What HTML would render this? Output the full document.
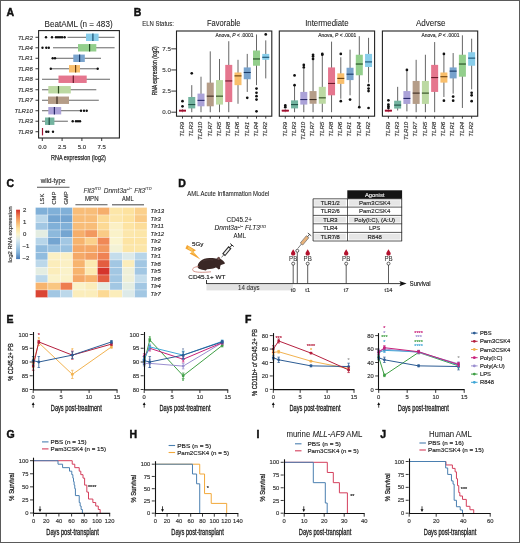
<!DOCTYPE html>
<html><head><meta charset="utf-8"><style>html,body{margin:0;padding:0;background:#fff;width:520px;height:543px;overflow:hidden;position:relative;font-family:"Liberation Sans",sans-serif}</style></head><body>
<svg width="520" height="543" viewBox="0 0 520 543" style="position:absolute;left:0;top:0;will-change:transform" font-family='"Liberation Sans", sans-serif'>
<rect x="0.00" y="0.00" width="520.00" height="543.00" fill="#ffffff" stroke="none" stroke-width="1" />
<text x="6.50" y="16.20" font-size="10.5" text-anchor="start" fill="#111" stroke="#111" stroke-width="0.45" font-weight="bold" >A</text>
<text x="78.60" y="26.50" font-size="8.7" text-anchor="middle" fill="#222" stroke="#222" stroke-width="0.07" textLength="68" lengthAdjust="spacingAndGlyphs" >BeatAML (n = 483)</text>
<line x1="67.50" y1="37.30" x2="114.60" y2="37.30" stroke="#555" stroke-width="0.9" />
<rect x="86.00" y="33.60" width="12.60" height="7.40" fill="#88cdea" stroke="none" stroke-width="1" />
<line x1="92.90" y1="33.60" x2="92.90" y2="41.00" stroke="#1a5070" stroke-width="1.2" />
<circle cx="46.00" cy="37.30" r="1.2" fill="#111" />
<circle cx="52.00" cy="37.30" r="1.2" fill="#111" />
<circle cx="56.00" cy="37.30" r="1.2" fill="#111" />
<circle cx="58.00" cy="37.30" r="1.2" fill="#111" />
<circle cx="60.00" cy="37.30" r="1.2" fill="#111" />
<circle cx="62.00" cy="37.30" r="1.2" fill="#111" />
<circle cx="64.60" cy="37.30" r="1.2" fill="#111" />
<text x="32.80" y="39.50" font-size="6.1" text-anchor="end" fill="#3a3a3a" stroke="#3a3a3a" stroke-width="0.16" font-style="italic" >TLR2</text>
<line x1="35.50" y1="37.30" x2="38.60" y2="37.30" stroke="#222" stroke-width="0.9" />
<line x1="53.00" y1="47.79" x2="114.60" y2="47.79" stroke="#555" stroke-width="0.9" />
<rect x="78.00" y="44.09" width="18.30" height="7.40" fill="#93cf8c" stroke="none" stroke-width="1" />
<line x1="89.60" y1="44.09" x2="89.60" y2="51.49" stroke="#1f4a1f" stroke-width="1.2" />
<circle cx="42.50" cy="47.79" r="1.2" fill="#111" />
<circle cx="46.30" cy="47.79" r="1.2" fill="#111" />
<circle cx="48.80" cy="47.79" r="1.2" fill="#111" />
<text x="32.80" y="49.99" font-size="6.1" text-anchor="end" fill="#3a3a3a" stroke="#3a3a3a" stroke-width="0.16" font-style="italic" >TLR4</text>
<line x1="35.50" y1="47.79" x2="38.60" y2="47.79" stroke="#222" stroke-width="0.9" />
<line x1="55.00" y1="58.28" x2="101.00" y2="58.28" stroke="#555" stroke-width="0.9" />
<rect x="73.30" y="54.58" width="11.50" height="7.40" fill="#78a3cd" stroke="none" stroke-width="1" />
<line x1="79.60" y1="54.58" x2="79.60" y2="61.98" stroke="#1a3a66" stroke-width="1.2" />
<circle cx="52.70" cy="58.28" r="1.2" fill="#111" />
<circle cx="55.00" cy="58.28" r="1.2" fill="#111" />
<text x="32.80" y="60.48" font-size="6.1" text-anchor="end" fill="#3a3a3a" stroke="#3a3a3a" stroke-width="0.16" font-style="italic" >TLR1</text>
<line x1="35.50" y1="58.28" x2="38.60" y2="58.28" stroke="#222" stroke-width="0.9" />
<line x1="50.80" y1="68.77" x2="97.70" y2="68.77" stroke="#555" stroke-width="0.9" />
<rect x="69.00" y="65.07" width="11.00" height="7.40" fill="#f9bf6c" stroke="none" stroke-width="1" />
<line x1="75.60" y1="65.07" x2="75.60" y2="72.47" stroke="#6a4010" stroke-width="1.2" />
<circle cx="50.80" cy="68.77" r="1.2" fill="#111" />
<circle cx="97.70" cy="68.77" r="1.2" fill="#111" />
<text x="32.80" y="70.97" font-size="6.1" text-anchor="end" fill="#3a3a3a" stroke="#3a3a3a" stroke-width="0.16" font-style="italic" >TLR6</text>
<line x1="35.50" y1="68.77" x2="38.60" y2="68.77" stroke="#222" stroke-width="0.9" />
<line x1="42.00" y1="79.26" x2="110.00" y2="79.26" stroke="#555" stroke-width="0.9" />
<rect x="58.50" y="75.56" width="28.20" height="7.40" fill="#e5768e" stroke="none" stroke-width="1" />
<line x1="73.30" y1="75.56" x2="73.30" y2="82.96" stroke="#6a1a2a" stroke-width="1.2" />
<text x="32.80" y="81.46" font-size="6.1" text-anchor="end" fill="#3a3a3a" stroke="#3a3a3a" stroke-width="0.16" font-style="italic" >TLR8</text>
<line x1="35.50" y1="79.26" x2="38.60" y2="79.26" stroke="#222" stroke-width="0.9" />
<line x1="42.00" y1="89.75" x2="96.30" y2="89.75" stroke="#555" stroke-width="0.9" />
<rect x="48.30" y="86.05" width="22.50" height="7.40" fill="#bcd9a2" stroke="none" stroke-width="1" />
<line x1="58.50" y1="86.05" x2="58.50" y2="93.45" stroke="#2e4a20" stroke-width="1.2" />
<text x="32.80" y="91.95" font-size="6.1" text-anchor="end" fill="#3a3a3a" stroke="#3a3a3a" stroke-width="0.16" font-style="italic" >TLR5</text>
<line x1="35.50" y1="89.75" x2="38.60" y2="89.75" stroke="#222" stroke-width="0.9" />
<line x1="42.00" y1="100.24" x2="98.80" y2="100.24" stroke="#555" stroke-width="0.9" />
<rect x="48.00" y="96.54" width="21.00" height="7.40" fill="#b59d88" stroke="none" stroke-width="1" />
<line x1="57.00" y1="96.54" x2="57.00" y2="103.94" stroke="#3a2a20" stroke-width="1.2" />
<text x="32.80" y="102.44" font-size="6.1" text-anchor="end" fill="#3a3a3a" stroke="#3a3a3a" stroke-width="0.16" font-style="italic" >TLR7</text>
<line x1="35.50" y1="100.24" x2="38.60" y2="100.24" stroke="#222" stroke-width="0.9" />
<line x1="42.00" y1="110.73" x2="80.00" y2="110.73" stroke="#555" stroke-width="0.9" />
<rect x="48.30" y="107.03" width="12.90" height="7.40" fill="#aba2d8" stroke="none" stroke-width="1" />
<line x1="54.40" y1="107.03" x2="54.40" y2="114.43" stroke="#2a2a6a" stroke-width="1.2" />
<circle cx="81.00" cy="110.73" r="1.2" fill="#111" />
<circle cx="84.00" cy="110.73" r="1.2" fill="#111" />
<circle cx="86.70" cy="110.73" r="1.2" fill="#111" />
<text x="32.80" y="112.93" font-size="6.1" text-anchor="end" fill="#3a3a3a" stroke="#3a3a3a" stroke-width="0.16" font-style="italic" >TLR10</text>
<line x1="35.50" y1="110.73" x2="38.60" y2="110.73" stroke="#222" stroke-width="0.9" />
<line x1="42.00" y1="121.22" x2="67.90" y2="121.22" stroke="#555" stroke-width="0.9" />
<rect x="45.00" y="117.52" width="9.40" height="7.40" fill="#74b4a0" stroke="none" stroke-width="1" />
<line x1="49.20" y1="117.52" x2="49.20" y2="124.92" stroke="#1f4f44" stroke-width="1.2" />
<circle cx="72.70" cy="121.22" r="1.2" fill="#111" />
<circle cx="76.00" cy="121.22" r="1.2" fill="#111" />
<circle cx="78.00" cy="121.22" r="1.2" fill="#111" />
<circle cx="80.00" cy="121.22" r="1.2" fill="#111" />
<text x="32.80" y="123.42" font-size="6.1" text-anchor="end" fill="#3a3a3a" stroke="#3a3a3a" stroke-width="0.16" font-style="italic" >TLR3</text>
<line x1="35.50" y1="121.22" x2="38.60" y2="121.22" stroke="#222" stroke-width="0.9" />
<line x1="42.00" y1="131.71" x2="43.00" y2="131.71" stroke="#555" stroke-width="0.9" />
<line x1="42.50" y1="128.01" x2="42.50" y2="135.41" stroke="#9a1030" stroke-width="1.2" />
<circle cx="46.30" cy="131.71" r="1.2" fill="#111" />
<circle cx="48.30" cy="131.71" r="1.2" fill="#111" />
<circle cx="53.00" cy="131.71" r="1.2" fill="#111" />
<text x="32.80" y="133.91" font-size="6.1" text-anchor="end" fill="#3a3a3a" stroke="#3a3a3a" stroke-width="0.16" font-style="italic" >TLR9</text>
<line x1="35.50" y1="131.71" x2="38.60" y2="131.71" stroke="#222" stroke-width="0.9" />
<rect x="38.60" y="30.60" width="80.80" height="107.40" fill="none" stroke="#222" stroke-width="1.1" />
<line x1="42.30" y1="138.00" x2="42.30" y2="141.00" stroke="#222" stroke-width="0.9" />
<text x="42.30" y="149.00" font-size="6" text-anchor="middle" fill="#333" stroke="#333" stroke-width="0.16" >0.0</text>
<line x1="62.10" y1="138.00" x2="62.10" y2="141.00" stroke="#222" stroke-width="0.9" />
<text x="62.10" y="149.00" font-size="6" text-anchor="middle" fill="#333" stroke="#333" stroke-width="0.16" >2.5</text>
<line x1="81.90" y1="138.00" x2="81.90" y2="141.00" stroke="#222" stroke-width="0.9" />
<text x="81.90" y="149.00" font-size="6" text-anchor="middle" fill="#333" stroke="#333" stroke-width="0.16" >5.0</text>
<line x1="101.70" y1="138.00" x2="101.70" y2="141.00" stroke="#222" stroke-width="0.9" />
<text x="101.70" y="149.00" font-size="6" text-anchor="middle" fill="#333" stroke="#333" stroke-width="0.16" >7.5</text>
<text x="78.40" y="160.10" font-size="7.8" text-anchor="middle" fill="#222" stroke="#222" stroke-width="0.25" textLength="54.8" lengthAdjust="spacingAndGlyphs" >RNA expression (log2)</text>
<text x="133.80" y="16.20" font-size="10.5" text-anchor="start" fill="#111" stroke="#111" stroke-width="0.45" font-weight="bold" >B</text>
<text x="142.30" y="26.40" font-size="6.5" text-anchor="start" fill="#222" stroke="#222" stroke-width="0.07" textLength="31.7" lengthAdjust="spacingAndGlyphs" >ELN Status:</text>
<text x="223.70" y="26.30" font-size="8.7" text-anchor="middle" fill="#222" stroke="#222" stroke-width="0.07" textLength="33.5" lengthAdjust="spacingAndGlyphs" >Favorable</text>
<line x1="182.50" y1="112.20" x2="182.50" y2="109.24" stroke="#555" stroke-width="0.9" />
<rect x="179.00" y="109.67" width="7.00" height="2.11" fill="#c23a55" stroke="none" stroke-width="1" />
<line x1="179.00" y1="110.51" x2="186.00" y2="110.51" stroke="#9a1030" stroke-width="1.1" />
<circle cx="182.50" cy="106.28" r="1.35" fill="#111" />
<circle cx="182.50" cy="101.22" r="1.35" fill="#111" />
<line x1="182.50" y1="116.20" x2="182.50" y2="118.60" stroke="#222" stroke-width="0.9" />
<text x="0.00" y="0.00" font-size="6.1" text-anchor="end" fill="#333" stroke="#333" stroke-width="0.16" font-style="italic" transform="translate(183.80,121.8) rotate(-90)">TLR9</text>
<line x1="191.75" y1="112.20" x2="191.75" y2="85.16" stroke="#555" stroke-width="0.9" />
<rect x="188.25" y="96.99" width="7.00" height="11.41" fill="#74b4a0" stroke="none" stroke-width="1" />
<line x1="188.25" y1="104.59" x2="195.25" y2="104.59" stroke="#1f4f44" stroke-width="1.1" />
<circle cx="191.75" cy="73.33" r="1.35" fill="#111" />
<line x1="191.75" y1="116.20" x2="191.75" y2="118.60" stroke="#222" stroke-width="0.9" />
<text x="0.00" y="0.00" font-size="6.1" text-anchor="end" fill="#333" stroke="#333" stroke-width="0.16" font-style="italic" transform="translate(193.05,121.8) rotate(-90)">TLR3</text>
<line x1="201.00" y1="112.20" x2="201.00" y2="76.71" stroke="#555" stroke-width="0.9" />
<rect x="197.50" y="93.61" width="7.00" height="12.67" fill="#aba2d8" stroke="none" stroke-width="1" />
<line x1="197.50" y1="100.37" x2="204.50" y2="100.37" stroke="#2a2a6a" stroke-width="1.1" />
<line x1="201.00" y1="116.20" x2="201.00" y2="118.60" stroke="#222" stroke-width="0.9" />
<text x="0.00" y="0.00" font-size="6.1" text-anchor="end" fill="#333" stroke="#333" stroke-width="0.16" font-style="italic" transform="translate(202.30,121.8) rotate(-90)">TLR10</text>
<line x1="210.25" y1="112.20" x2="210.25" y2="51.36" stroke="#555" stroke-width="0.9" />
<rect x="206.75" y="82.62" width="7.00" height="23.66" fill="#b59d88" stroke="none" stroke-width="1" />
<line x1="206.75" y1="96.15" x2="213.75" y2="96.15" stroke="#3a2a20" stroke-width="1.1" />
<line x1="210.25" y1="116.20" x2="210.25" y2="118.60" stroke="#222" stroke-width="0.9" />
<text x="0.00" y="0.00" font-size="6.1" text-anchor="end" fill="#333" stroke="#333" stroke-width="0.16" font-style="italic" transform="translate(211.55,121.8) rotate(-90)">TLR7</text>
<line x1="219.50" y1="112.20" x2="219.50" y2="58.97" stroke="#555" stroke-width="0.9" />
<rect x="216.00" y="80.09" width="7.00" height="24.50" fill="#bcd9a2" stroke="none" stroke-width="1" />
<line x1="216.00" y1="96.15" x2="223.00" y2="96.15" stroke="#2e4a20" stroke-width="1.1" />
<line x1="219.50" y1="116.20" x2="219.50" y2="118.60" stroke="#222" stroke-width="0.9" />
<text x="0.00" y="0.00" font-size="6.1" text-anchor="end" fill="#333" stroke="#333" stroke-width="0.16" font-style="italic" transform="translate(220.80,121.8) rotate(-90)">TLR5</text>
<line x1="228.75" y1="112.20" x2="228.75" y2="41.22" stroke="#555" stroke-width="0.9" />
<rect x="225.25" y="64.88" width="7.00" height="37.18" fill="#e5768e" stroke="none" stroke-width="1" />
<line x1="225.25" y1="80.94" x2="232.25" y2="80.94" stroke="#6a1a2a" stroke-width="1.1" />
<line x1="228.75" y1="116.20" x2="228.75" y2="118.60" stroke="#222" stroke-width="0.9" />
<text x="0.00" y="0.00" font-size="6.1" text-anchor="end" fill="#333" stroke="#333" stroke-width="0.16" font-style="italic" transform="translate(230.05,121.8) rotate(-90)">TLR8</text>
<line x1="238.00" y1="103.75" x2="238.00" y2="59.81" stroke="#555" stroke-width="0.9" />
<rect x="234.50" y="72.49" width="7.00" height="12.67" fill="#f9bf6c" stroke="none" stroke-width="1" />
<line x1="234.50" y1="75.87" x2="241.50" y2="75.87" stroke="#6a4010" stroke-width="1.1" />
<line x1="238.00" y1="116.20" x2="238.00" y2="118.60" stroke="#222" stroke-width="0.9" />
<text x="0.00" y="0.00" font-size="6.1" text-anchor="end" fill="#333" stroke="#333" stroke-width="0.16" font-style="italic" transform="translate(239.30,121.8) rotate(-90)">TLR6</text>
<line x1="247.25" y1="91.92" x2="247.25" y2="53.90" stroke="#555" stroke-width="0.9" />
<rect x="243.75" y="67.42" width="7.00" height="11.83" fill="#78a3cd" stroke="none" stroke-width="1" />
<line x1="243.75" y1="72.49" x2="250.75" y2="72.49" stroke="#1a3a66" stroke-width="1.1" />
<circle cx="247.25" cy="97.84" r="1.35" fill="#111" />
<line x1="247.25" y1="116.20" x2="247.25" y2="118.60" stroke="#222" stroke-width="0.9" />
<text x="0.00" y="0.00" font-size="6.1" text-anchor="end" fill="#333" stroke="#333" stroke-width="0.16" font-style="italic" transform="translate(248.55,121.8) rotate(-90)">TLR1</text>
<line x1="256.50" y1="85.16" x2="256.50" y2="34.46" stroke="#555" stroke-width="0.9" />
<rect x="253.00" y="50.52" width="7.00" height="15.21" fill="#93cf8c" stroke="none" stroke-width="1" />
<line x1="253.00" y1="58.97" x2="260.00" y2="58.97" stroke="#1f4a1f" stroke-width="1.1" />
<circle cx="256.50" cy="88.54" r="1.35" fill="#111" />
<circle cx="256.50" cy="92.77" r="1.35" fill="#111" />
<circle cx="256.50" cy="96.15" r="1.35" fill="#111" />
<circle cx="256.50" cy="99.53" r="1.35" fill="#111" />
<circle cx="256.50" cy="111.36" r="1.35" fill="#111" />
<line x1="256.50" y1="116.20" x2="256.50" y2="118.60" stroke="#222" stroke-width="0.9" />
<text x="0.00" y="0.00" font-size="6.1" text-anchor="end" fill="#333" stroke="#333" stroke-width="0.16" font-style="italic" transform="translate(257.80,121.8) rotate(-90)">TLR4</text>
<line x1="265.75" y1="78.40" x2="265.75" y2="40.38" stroke="#555" stroke-width="0.9" />
<rect x="262.25" y="53.90" width="7.00" height="5.91" fill="#88cdea" stroke="none" stroke-width="1" />
<line x1="262.25" y1="57.28" x2="269.25" y2="57.28" stroke="#1a5070" stroke-width="1.1" />
<circle cx="265.75" cy="34.46" r="1.35" fill="#111" />
<line x1="265.75" y1="116.20" x2="265.75" y2="118.60" stroke="#222" stroke-width="0.9" />
<text x="0.00" y="0.00" font-size="6.1" text-anchor="end" fill="#333" stroke="#333" stroke-width="0.16" font-style="italic" transform="translate(267.05,121.8) rotate(-90)">TLR2</text>
<rect x="176.50" y="31.00" width="95.30" height="85.20" fill="none" stroke="#222" stroke-width="1.1" />
<text x="253.50" y="37.30" font-size="5" text-anchor="end" fill="#333" stroke="#333" stroke-width="0.16" textLength="38" lengthAdjust="spacingAndGlyphs" >Anova, <tspan font-style="italic">P</tspan> &lt; .0001</text>
<text x="326.90" y="26.30" font-size="8.7" text-anchor="middle" fill="#222" stroke="#222" stroke-width="0.07" textLength="43.4" lengthAdjust="spacingAndGlyphs" >Intermediate</text>
<line x1="285.30" y1="112.20" x2="285.30" y2="109.24" stroke="#555" stroke-width="0.9" />
<rect x="281.80" y="109.67" width="7.00" height="2.11" fill="#c23a55" stroke="none" stroke-width="1" />
<line x1="281.80" y1="110.51" x2="288.80" y2="110.51" stroke="#9a1030" stroke-width="1.1" />
<circle cx="285.30" cy="107.13" r="1.35" fill="#111" />
<circle cx="285.30" cy="105.44" r="1.35" fill="#111" />
<line x1="285.30" y1="116.20" x2="285.30" y2="118.60" stroke="#222" stroke-width="0.9" />
<text x="0.00" y="0.00" font-size="6.1" text-anchor="end" fill="#333" stroke="#333" stroke-width="0.16" font-style="italic" transform="translate(286.60,121.8) rotate(-90)">TLR9</text>
<line x1="294.55" y1="112.20" x2="294.55" y2="84.32" stroke="#555" stroke-width="0.9" />
<rect x="291.05" y="100.37" width="7.00" height="8.03" fill="#74b4a0" stroke="none" stroke-width="1" />
<line x1="291.05" y1="104.59" x2="298.05" y2="104.59" stroke="#1f4f44" stroke-width="1.1" />
<circle cx="294.55" cy="85.16" r="1.35" fill="#111" />
<circle cx="294.55" cy="75.44" r="1.35" fill="#111" />
<line x1="294.55" y1="116.20" x2="294.55" y2="118.60" stroke="#222" stroke-width="0.9" />
<text x="0.00" y="0.00" font-size="6.1" text-anchor="end" fill="#333" stroke="#333" stroke-width="0.16" font-style="italic" transform="translate(295.85,121.8) rotate(-90)">TLR3</text>
<line x1="303.80" y1="112.20" x2="303.80" y2="69.11" stroke="#555" stroke-width="0.9" />
<rect x="300.30" y="91.92" width="7.00" height="12.67" fill="#aba2d8" stroke="none" stroke-width="1" />
<line x1="300.30" y1="99.53" x2="307.30" y2="99.53" stroke="#2a2a6a" stroke-width="1.1" />
<circle cx="303.80" cy="67.42" r="1.35" fill="#111" />
<circle cx="303.80" cy="64.88" r="1.35" fill="#111" />
<line x1="303.80" y1="116.20" x2="303.80" y2="118.60" stroke="#222" stroke-width="0.9" />
<text x="0.00" y="0.00" font-size="6.1" text-anchor="end" fill="#333" stroke="#333" stroke-width="0.16" font-style="italic" transform="translate(305.10,121.8) rotate(-90)">TLR10</text>
<line x1="313.05" y1="112.20" x2="313.05" y2="58.97" stroke="#555" stroke-width="0.9" />
<rect x="309.55" y="91.08" width="7.00" height="12.67" fill="#b59d88" stroke="none" stroke-width="1" />
<line x1="309.55" y1="99.53" x2="316.55" y2="99.53" stroke="#3a2a20" stroke-width="1.1" />
<circle cx="313.05" cy="58.97" r="1.35" fill="#111" />
<circle cx="313.05" cy="56.43" r="1.35" fill="#111" />
<circle cx="313.05" cy="54.74" r="1.35" fill="#111" />
<line x1="313.05" y1="116.20" x2="313.05" y2="118.60" stroke="#222" stroke-width="0.9" />
<text x="0.00" y="0.00" font-size="6.1" text-anchor="end" fill="#333" stroke="#333" stroke-width="0.16" font-style="italic" transform="translate(314.35,121.8) rotate(-90)">TLR7</text>
<line x1="322.30" y1="112.20" x2="322.30" y2="55.59" stroke="#555" stroke-width="0.9" />
<rect x="318.80" y="86.85" width="7.00" height="16.90" fill="#bcd9a2" stroke="none" stroke-width="1" />
<line x1="318.80" y1="97.84" x2="325.80" y2="97.84" stroke="#2e4a20" stroke-width="1.1" />
<circle cx="322.30" cy="54.74" r="1.35" fill="#111" />
<circle cx="322.30" cy="53.90" r="1.35" fill="#111" />
<line x1="322.30" y1="116.20" x2="322.30" y2="118.60" stroke="#222" stroke-width="0.9" />
<text x="0.00" y="0.00" font-size="6.1" text-anchor="end" fill="#333" stroke="#333" stroke-width="0.16" font-style="italic" transform="translate(323.60,121.8) rotate(-90)">TLR5</text>
<line x1="331.55" y1="112.20" x2="331.55" y2="41.64" stroke="#555" stroke-width="0.9" />
<rect x="328.05" y="67.42" width="7.00" height="27.89" fill="#e5768e" stroke="none" stroke-width="1" />
<line x1="328.05" y1="83.47" x2="335.05" y2="83.47" stroke="#6a1a2a" stroke-width="1.1" />
<line x1="331.55" y1="116.20" x2="331.55" y2="118.60" stroke="#222" stroke-width="0.9" />
<text x="0.00" y="0.00" font-size="6.1" text-anchor="end" fill="#333" stroke="#333" stroke-width="0.16" font-style="italic" transform="translate(332.85,121.8) rotate(-90)">TLR8</text>
<line x1="340.80" y1="98.68" x2="340.80" y2="57.28" stroke="#555" stroke-width="0.9" />
<rect x="337.30" y="73.33" width="7.00" height="10.56" fill="#f9bf6c" stroke="none" stroke-width="1" />
<line x1="337.30" y1="78.40" x2="344.30" y2="78.40" stroke="#6a4010" stroke-width="1.1" />
<circle cx="340.80" cy="53.90" r="1.35" fill="#111" />
<circle cx="340.80" cy="101.22" r="1.35" fill="#111" />
<line x1="340.80" y1="116.20" x2="340.80" y2="118.60" stroke="#222" stroke-width="0.9" />
<text x="0.00" y="0.00" font-size="6.1" text-anchor="end" fill="#333" stroke="#333" stroke-width="0.16" font-style="italic" transform="translate(342.10,121.8) rotate(-90)">TLR6</text>
<line x1="350.05" y1="95.30" x2="350.05" y2="49.67" stroke="#555" stroke-width="0.9" />
<rect x="346.55" y="67.75" width="7.00" height="12.34" fill="#78a3cd" stroke="none" stroke-width="1" />
<line x1="346.55" y1="74.18" x2="353.55" y2="74.18" stroke="#1a3a66" stroke-width="1.1" />
<circle cx="350.05" cy="99.53" r="1.35" fill="#111" />
<line x1="350.05" y1="116.20" x2="350.05" y2="118.60" stroke="#222" stroke-width="0.9" />
<text x="0.00" y="0.00" font-size="6.1" text-anchor="end" fill="#333" stroke="#333" stroke-width="0.16" font-style="italic" transform="translate(351.35,121.8) rotate(-90)">TLR1</text>
<line x1="359.30" y1="107.13" x2="359.30" y2="36.15" stroke="#555" stroke-width="0.9" />
<rect x="355.80" y="54.74" width="7.00" height="20.53" fill="#93cf8c" stroke="none" stroke-width="1" />
<line x1="355.80" y1="64.03" x2="362.80" y2="64.03" stroke="#1f4a1f" stroke-width="1.1" />
<circle cx="359.30" cy="107.13" r="1.35" fill="#111" />
<line x1="359.30" y1="116.20" x2="359.30" y2="118.60" stroke="#222" stroke-width="0.9" />
<text x="0.00" y="0.00" font-size="6.1" text-anchor="end" fill="#333" stroke="#333" stroke-width="0.16" font-style="italic" transform="translate(360.60,121.8) rotate(-90)">TLR4</text>
<line x1="368.55" y1="82.62" x2="368.55" y2="37.84" stroke="#555" stroke-width="0.9" />
<rect x="365.05" y="53.90" width="7.00" height="13.10" fill="#88cdea" stroke="none" stroke-width="1" />
<line x1="365.05" y1="61.92" x2="372.05" y2="61.92" stroke="#1a5070" stroke-width="1.1" />
<circle cx="368.55" cy="85.16" r="1.35" fill="#111" />
<circle cx="368.55" cy="88.54" r="1.35" fill="#111" />
<circle cx="368.55" cy="91.08" r="1.35" fill="#111" />
<circle cx="368.55" cy="107.98" r="1.35" fill="#111" />
<line x1="368.55" y1="116.20" x2="368.55" y2="118.60" stroke="#222" stroke-width="0.9" />
<text x="0.00" y="0.00" font-size="6.1" text-anchor="end" fill="#333" stroke="#333" stroke-width="0.16" font-style="italic" transform="translate(369.85,121.8) rotate(-90)">TLR2</text>
<rect x="279.30" y="31.00" width="95.30" height="85.20" fill="none" stroke="#222" stroke-width="1.1" />
<text x="356.30" y="37.30" font-size="5" text-anchor="end" fill="#333" stroke="#333" stroke-width="0.16" textLength="38" lengthAdjust="spacingAndGlyphs" >Anova, <tspan font-style="italic">P</tspan> &lt; .0001</text>
<text x="430.70" y="26.30" font-size="8.7" text-anchor="middle" fill="#222" stroke="#222" stroke-width="0.07" textLength="29.5" lengthAdjust="spacingAndGlyphs" >Adverse</text>
<line x1="388.40" y1="112.20" x2="388.40" y2="109.24" stroke="#555" stroke-width="0.9" />
<rect x="384.90" y="109.67" width="7.00" height="2.11" fill="#c23a55" stroke="none" stroke-width="1" />
<line x1="384.90" y1="110.51" x2="391.90" y2="110.51" stroke="#9a1030" stroke-width="1.1" />
<circle cx="388.40" cy="107.98" r="1.35" fill="#111" />
<circle cx="388.40" cy="106.28" r="1.35" fill="#111" />
<circle cx="388.40" cy="104.59" r="1.35" fill="#111" />
<circle cx="388.40" cy="100.37" r="1.35" fill="#111" />
<line x1="388.40" y1="116.20" x2="388.40" y2="118.60" stroke="#222" stroke-width="0.9" />
<text x="0.00" y="0.00" font-size="6.1" text-anchor="end" fill="#333" stroke="#333" stroke-width="0.16" font-style="italic" transform="translate(389.70,121.8) rotate(-90)">TLR9</text>
<line x1="397.65" y1="110.51" x2="397.65" y2="86.85" stroke="#555" stroke-width="0.9" />
<rect x="394.15" y="100.71" width="7.00" height="7.86" fill="#74b4a0" stroke="none" stroke-width="1" />
<line x1="394.15" y1="105.10" x2="401.15" y2="105.10" stroke="#1f4f44" stroke-width="1.1" />
<line x1="397.65" y1="116.20" x2="397.65" y2="118.60" stroke="#222" stroke-width="0.9" />
<text x="0.00" y="0.00" font-size="6.1" text-anchor="end" fill="#333" stroke="#333" stroke-width="0.16" font-style="italic" transform="translate(398.95,121.8) rotate(-90)">TLR3</text>
<line x1="406.90" y1="111.36" x2="406.90" y2="69.95" stroke="#555" stroke-width="0.9" />
<rect x="403.40" y="91.08" width="7.00" height="12.84" fill="#aba2d8" stroke="none" stroke-width="1" />
<line x1="403.40" y1="98.43" x2="410.40" y2="98.43" stroke="#2a2a6a" stroke-width="1.1" />
<circle cx="406.90" cy="69.95" r="1.35" fill="#111" />
<line x1="406.90" y1="116.20" x2="406.90" y2="118.60" stroke="#222" stroke-width="0.9" />
<text x="0.00" y="0.00" font-size="6.1" text-anchor="end" fill="#333" stroke="#333" stroke-width="0.16" font-style="italic" transform="translate(408.20,121.8) rotate(-90)">TLR10</text>
<line x1="416.15" y1="112.20" x2="416.15" y2="59.81" stroke="#555" stroke-width="0.9" />
<rect x="412.65" y="80.94" width="7.00" height="22.98" fill="#b59d88" stroke="none" stroke-width="1" />
<line x1="412.65" y1="93.10" x2="419.65" y2="93.10" stroke="#3a2a20" stroke-width="1.1" />
<line x1="416.15" y1="116.20" x2="416.15" y2="118.60" stroke="#222" stroke-width="0.9" />
<text x="0.00" y="0.00" font-size="6.1" text-anchor="end" fill="#333" stroke="#333" stroke-width="0.16" font-style="italic" transform="translate(417.45,121.8) rotate(-90)">TLR7</text>
<line x1="425.40" y1="112.20" x2="425.40" y2="54.74" stroke="#555" stroke-width="0.9" />
<rect x="421.90" y="80.94" width="7.00" height="22.98" fill="#bcd9a2" stroke="none" stroke-width="1" />
<line x1="421.90" y1="93.10" x2="428.90" y2="93.10" stroke="#2e4a20" stroke-width="1.1" />
<line x1="425.40" y1="116.20" x2="425.40" y2="118.60" stroke="#222" stroke-width="0.9" />
<text x="0.00" y="0.00" font-size="6.1" text-anchor="end" fill="#333" stroke="#333" stroke-width="0.16" font-style="italic" transform="translate(426.70,121.8) rotate(-90)">TLR5</text>
<line x1="434.65" y1="112.20" x2="434.65" y2="42.06" stroke="#555" stroke-width="0.9" />
<rect x="431.15" y="64.88" width="7.00" height="27.04" fill="#e5768e" stroke="none" stroke-width="1" />
<line x1="431.15" y1="77.56" x2="438.15" y2="77.56" stroke="#6a1a2a" stroke-width="1.1" />
<line x1="434.65" y1="116.20" x2="434.65" y2="118.60" stroke="#222" stroke-width="0.9" />
<text x="0.00" y="0.00" font-size="6.1" text-anchor="end" fill="#333" stroke="#333" stroke-width="0.16" font-style="italic" transform="translate(435.95,121.8) rotate(-90)">TLR8</text>
<line x1="443.90" y1="96.99" x2="443.90" y2="54.74" stroke="#555" stroke-width="0.9" />
<rect x="440.40" y="72.49" width="7.00" height="10.14" fill="#f9bf6c" stroke="none" stroke-width="1" />
<line x1="440.40" y1="76.71" x2="447.40" y2="76.71" stroke="#6a4010" stroke-width="1.1" />
<circle cx="443.90" cy="53.90" r="1.35" fill="#111" />
<circle cx="443.90" cy="100.71" r="1.35" fill="#111" />
<line x1="443.90" y1="116.20" x2="443.90" y2="118.60" stroke="#222" stroke-width="0.9" />
<text x="0.00" y="0.00" font-size="6.1" text-anchor="end" fill="#333" stroke="#333" stroke-width="0.16" font-style="italic" transform="translate(445.20,121.8) rotate(-90)">TLR6</text>
<line x1="453.15" y1="93.61" x2="453.15" y2="53.05" stroke="#555" stroke-width="0.9" />
<rect x="449.65" y="67.42" width="7.00" height="10.98" fill="#78a3cd" stroke="none" stroke-width="1" />
<line x1="449.65" y1="71.13" x2="456.65" y2="71.13" stroke="#1a3a66" stroke-width="1.1" />
<circle cx="453.15" cy="96.57" r="1.35" fill="#111" />
<circle cx="453.15" cy="100.71" r="1.35" fill="#111" />
<line x1="453.15" y1="116.20" x2="453.15" y2="118.60" stroke="#222" stroke-width="0.9" />
<text x="0.00" y="0.00" font-size="6.1" text-anchor="end" fill="#333" stroke="#333" stroke-width="0.16" font-style="italic" transform="translate(454.45,121.8) rotate(-90)">TLR1</text>
<line x1="462.40" y1="107.98" x2="462.40" y2="35.31" stroke="#555" stroke-width="0.9" />
<rect x="458.90" y="54.74" width="7.00" height="21.97" fill="#93cf8c" stroke="none" stroke-width="1" />
<line x1="458.90" y1="64.03" x2="465.90" y2="64.03" stroke="#1f4a1f" stroke-width="1.1" />
<line x1="462.40" y1="116.20" x2="462.40" y2="118.60" stroke="#222" stroke-width="0.9" />
<text x="0.00" y="0.00" font-size="6.1" text-anchor="end" fill="#333" stroke="#333" stroke-width="0.16" font-style="italic" transform="translate(463.70,121.8) rotate(-90)">TLR4</text>
<line x1="471.65" y1="89.39" x2="471.65" y2="38.69" stroke="#555" stroke-width="0.9" />
<rect x="468.15" y="52.21" width="7.00" height="13.52" fill="#88cdea" stroke="none" stroke-width="1" />
<line x1="468.15" y1="58.12" x2="475.15" y2="58.12" stroke="#1a5070" stroke-width="1.1" />
<circle cx="471.65" cy="92.77" r="1.35" fill="#111" />
<circle cx="471.65" cy="95.30" r="1.35" fill="#111" />
<circle cx="471.65" cy="101.22" r="1.35" fill="#111" />
<line x1="471.65" y1="116.20" x2="471.65" y2="118.60" stroke="#222" stroke-width="0.9" />
<text x="0.00" y="0.00" font-size="6.1" text-anchor="end" fill="#333" stroke="#333" stroke-width="0.16" font-style="italic" transform="translate(472.95,121.8) rotate(-90)">TLR2</text>
<rect x="382.40" y="31.00" width="95.30" height="85.20" fill="none" stroke="#222" stroke-width="1.1" />
<text x="459.40" y="37.30" font-size="5" text-anchor="end" fill="#333" stroke="#333" stroke-width="0.16" textLength="38" lengthAdjust="spacingAndGlyphs" >Anova, <tspan font-style="italic">P</tspan> &lt; .0001</text>
<line x1="171.30" y1="112.20" x2="176.50" y2="112.20" stroke="#222" stroke-width="0.9" />
<text x="170.90" y="114.30" font-size="6.2" text-anchor="end" fill="#444" stroke="#444" stroke-width="0.16" >0.0</text>
<line x1="171.30" y1="91.08" x2="176.50" y2="91.08" stroke="#222" stroke-width="0.9" />
<text x="170.90" y="93.17" font-size="6.2" text-anchor="end" fill="#444" stroke="#444" stroke-width="0.16" >2.5</text>
<line x1="171.30" y1="69.95" x2="176.50" y2="69.95" stroke="#222" stroke-width="0.9" />
<text x="170.90" y="72.05" font-size="6.2" text-anchor="end" fill="#444" stroke="#444" stroke-width="0.16" >5.0</text>
<line x1="171.30" y1="48.83" x2="176.50" y2="48.83" stroke="#222" stroke-width="0.9" />
<text x="170.90" y="50.93" font-size="6.2" text-anchor="end" fill="#444" stroke="#444" stroke-width="0.16" >7.5</text>
<text x="0.00" y="0.00" font-size="7.8" text-anchor="middle" fill="#222" stroke="#222" stroke-width="0.25" textLength="49" lengthAdjust="spacingAndGlyphs" transform="translate(157.4,70.8) rotate(-90)">RNA expression (log2)</text>
<text x="6.50" y="187.40" font-size="10.5" text-anchor="start" fill="#111" stroke="#111" stroke-width="0.45" font-weight="bold" >C</text>
<text x="53.10" y="183.40" font-size="6.4" text-anchor="middle" fill="#333" stroke="#333" stroke-width="0.16" textLength="24.6" lengthAdjust="spacingAndGlyphs" >wild-type</text>
<line x1="37.00" y1="187.20" x2="69.50" y2="187.20" stroke="#555" stroke-width="1.1" />
<text x="0.00" y="0.00" font-size="5.8" text-anchor="start" fill="#333" stroke="#333" stroke-width="0.16" transform="translate(43.70,204.6) rotate(-90)">LSK</text>
<text x="0.00" y="0.00" font-size="5.8" text-anchor="start" fill="#333" stroke="#333" stroke-width="0.16" transform="translate(56.09,204.6) rotate(-90)">CMP</text>
<text x="0.00" y="0.00" font-size="5.8" text-anchor="start" fill="#333" stroke="#333" stroke-width="0.16" transform="translate(68.47,204.6) rotate(-90)">GMP</text>
<text x="92.10" y="192.60" font-size="6.6" text-anchor="middle" fill="#333" stroke="#333" stroke-width="0.07" ><tspan font-style="italic">Flt3</tspan><tspan font-size="3.9" dy="-2.6" font-style="italic">ITD</tspan></text>
<text x="91.80" y="200.80" font-size="6.3" text-anchor="middle" fill="#333" stroke="#333" stroke-width="0.16" textLength="13.5" lengthAdjust="spacingAndGlyphs" >MPN</text>
<line x1="75.40" y1="204.80" x2="107.50" y2="204.80" stroke="#555" stroke-width="1.1" />
<text x="127.60" y="192.60" font-size="6.6" text-anchor="middle" fill="#333" stroke="#333" stroke-width="0.07" ><tspan font-style="italic">Dnmt3a</tspan><tspan font-size="3.9" dy="-2.6">+/−</tspan><tspan dy="2.6" font-style="italic"> Flt3</tspan><tspan font-size="3.9" dy="-2.6" font-style="italic">ITD</tspan></text>
<text x="127.80" y="200.80" font-size="6.3" text-anchor="middle" fill="#333" stroke="#333" stroke-width="0.16" textLength="11.5" lengthAdjust="spacingAndGlyphs" >AML</text>
<line x1="112.00" y1="204.80" x2="144.00" y2="204.80" stroke="#555" stroke-width="1.1" />
<rect x="35.50" y="207.50" width="12.39" height="7.50" fill="#80b0d8" stroke="#ffffff" stroke-width="0.5" stroke-opacity="0.55"/>
<rect x="47.89" y="207.50" width="12.39" height="7.50" fill="#80b0d8" stroke="#ffffff" stroke-width="0.5" stroke-opacity="0.55"/>
<rect x="60.28" y="207.50" width="12.39" height="7.50" fill="#80b0d8" stroke="#ffffff" stroke-width="0.5" stroke-opacity="0.55"/>
<rect x="72.67" y="207.50" width="12.39" height="7.50" fill="#f8bd78" stroke="#ffffff" stroke-width="0.5" stroke-opacity="0.55"/>
<rect x="85.06" y="207.50" width="12.39" height="7.50" fill="#f8bd78" stroke="#ffffff" stroke-width="0.5" stroke-opacity="0.55"/>
<rect x="97.45" y="207.50" width="12.39" height="7.50" fill="#f6ae6b" stroke="#ffffff" stroke-width="0.5" stroke-opacity="0.55"/>
<rect x="109.84" y="207.50" width="12.39" height="7.50" fill="#fce6a8" stroke="#ffffff" stroke-width="0.5" stroke-opacity="0.55"/>
<rect x="122.23" y="207.50" width="12.39" height="7.50" fill="#fde29e" stroke="#ffffff" stroke-width="0.5" stroke-opacity="0.55"/>
<rect x="134.62" y="207.50" width="12.39" height="7.50" fill="#fbd08b" stroke="#ffffff" stroke-width="0.5" stroke-opacity="0.55"/>
<text x="150.50" y="213.35" font-size="6" text-anchor="start" fill="#333" stroke="#333" stroke-width="0.16" font-style="italic" >Tlr13</text>
<rect x="35.50" y="215.00" width="12.39" height="7.50" fill="#bcd8ea" stroke="#ffffff" stroke-width="0.5" stroke-opacity="0.55"/>
<rect x="47.89" y="215.00" width="12.39" height="7.50" fill="#74a5d1" stroke="#ffffff" stroke-width="0.5" stroke-opacity="0.55"/>
<rect x="60.28" y="215.00" width="12.39" height="7.50" fill="#74a5d1" stroke="#ffffff" stroke-width="0.5" stroke-opacity="0.55"/>
<rect x="72.67" y="215.00" width="12.39" height="7.50" fill="#f8bd78" stroke="#ffffff" stroke-width="0.5" stroke-opacity="0.55"/>
<rect x="85.06" y="215.00" width="12.39" height="7.50" fill="#f8bd78" stroke="#ffffff" stroke-width="0.5" stroke-opacity="0.55"/>
<rect x="97.45" y="215.00" width="12.39" height="7.50" fill="#fcd994" stroke="#ffffff" stroke-width="0.5" stroke-opacity="0.55"/>
<rect x="109.84" y="215.00" width="12.39" height="7.50" fill="#fce7ac" stroke="#ffffff" stroke-width="0.5" stroke-opacity="0.55"/>
<rect x="122.23" y="215.00" width="12.39" height="7.50" fill="#fde29e" stroke="#ffffff" stroke-width="0.5" stroke-opacity="0.55"/>
<rect x="134.62" y="215.00" width="12.39" height="7.50" fill="#facb86" stroke="#ffffff" stroke-width="0.5" stroke-opacity="0.55"/>
<text x="150.50" y="220.85" font-size="6" text-anchor="start" fill="#333" stroke="#333" stroke-width="0.16" font-style="italic" >Tlr3</text>
<rect x="35.50" y="222.50" width="12.39" height="7.50" fill="#a2c7e3" stroke="#ffffff" stroke-width="0.5" stroke-opacity="0.55"/>
<rect x="47.89" y="222.50" width="12.39" height="7.50" fill="#80b0d8" stroke="#ffffff" stroke-width="0.5" stroke-opacity="0.55"/>
<rect x="60.28" y="222.50" width="12.39" height="7.50" fill="#80b0d8" stroke="#ffffff" stroke-width="0.5" stroke-opacity="0.55"/>
<rect x="72.67" y="222.50" width="12.39" height="7.50" fill="#f8bd78" stroke="#ffffff" stroke-width="0.5" stroke-opacity="0.55"/>
<rect x="85.06" y="222.50" width="12.39" height="7.50" fill="#f8bd78" stroke="#ffffff" stroke-width="0.5" stroke-opacity="0.55"/>
<rect x="97.45" y="222.50" width="12.39" height="7.50" fill="#fcd994" stroke="#ffffff" stroke-width="0.5" stroke-opacity="0.55"/>
<rect x="109.84" y="222.50" width="12.39" height="7.50" fill="#fbf0c4" stroke="#ffffff" stroke-width="0.5" stroke-opacity="0.55"/>
<rect x="122.23" y="222.50" width="12.39" height="7.50" fill="#fde4a3" stroke="#ffffff" stroke-width="0.5" stroke-opacity="0.55"/>
<rect x="134.62" y="222.50" width="12.39" height="7.50" fill="#fcdd99" stroke="#ffffff" stroke-width="0.5" stroke-opacity="0.55"/>
<text x="150.50" y="228.35" font-size="6" text-anchor="start" fill="#333" stroke="#333" stroke-width="0.16" font-style="italic" >Tlr11</text>
<rect x="35.50" y="230.00" width="12.39" height="7.50" fill="#e4ede2" stroke="#ffffff" stroke-width="0.5" stroke-opacity="0.55"/>
<rect x="47.89" y="230.00" width="12.39" height="7.50" fill="#8db9dc" stroke="#ffffff" stroke-width="0.5" stroke-opacity="0.55"/>
<rect x="60.28" y="230.00" width="12.39" height="7.50" fill="#74a5d1" stroke="#ffffff" stroke-width="0.5" stroke-opacity="0.55"/>
<rect x="72.67" y="230.00" width="12.39" height="7.50" fill="#f6ae6b" stroke="#ffffff" stroke-width="0.5" stroke-opacity="0.55"/>
<rect x="85.06" y="230.00" width="12.39" height="7.50" fill="#f2985f" stroke="#ffffff" stroke-width="0.5" stroke-opacity="0.55"/>
<rect x="97.45" y="230.00" width="12.39" height="7.50" fill="#facb86" stroke="#ffffff" stroke-width="0.5" stroke-opacity="0.55"/>
<rect x="109.84" y="230.00" width="12.39" height="7.50" fill="#faf2c9" stroke="#ffffff" stroke-width="0.5" stroke-opacity="0.55"/>
<rect x="122.23" y="230.00" width="12.39" height="7.50" fill="#fce7ac" stroke="#ffffff" stroke-width="0.5" stroke-opacity="0.55"/>
<rect x="134.62" y="230.00" width="12.39" height="7.50" fill="#fce6a8" stroke="#ffffff" stroke-width="0.5" stroke-opacity="0.55"/>
<text x="150.50" y="235.85" font-size="6" text-anchor="start" fill="#333" stroke="#333" stroke-width="0.16" font-style="italic" >Tlr12</text>
<rect x="35.50" y="237.50" width="12.39" height="7.50" fill="#b7d5e9" stroke="#ffffff" stroke-width="0.5" stroke-opacity="0.55"/>
<rect x="47.89" y="237.50" width="12.39" height="7.50" fill="#74a5d1" stroke="#ffffff" stroke-width="0.5" stroke-opacity="0.55"/>
<rect x="60.28" y="237.50" width="12.39" height="7.50" fill="#a2c7e3" stroke="#ffffff" stroke-width="0.5" stroke-opacity="0.55"/>
<rect x="72.67" y="237.50" width="12.39" height="7.50" fill="#f7b46e" stroke="#ffffff" stroke-width="0.5" stroke-opacity="0.55"/>
<rect x="85.06" y="237.50" width="12.39" height="7.50" fill="#fbd08b" stroke="#ffffff" stroke-width="0.5" stroke-opacity="0.55"/>
<rect x="97.45" y="237.50" width="12.39" height="7.50" fill="#f08856" stroke="#ffffff" stroke-width="0.5" stroke-opacity="0.55"/>
<rect x="109.84" y="237.50" width="12.39" height="7.50" fill="#faf4ce" stroke="#ffffff" stroke-width="0.5" stroke-opacity="0.55"/>
<rect x="122.23" y="237.50" width="12.39" height="7.50" fill="#fde4a3" stroke="#ffffff" stroke-width="0.5" stroke-opacity="0.55"/>
<rect x="134.62" y="237.50" width="12.39" height="7.50" fill="#fde4a3" stroke="#ffffff" stroke-width="0.5" stroke-opacity="0.55"/>
<text x="150.50" y="243.35" font-size="6" text-anchor="start" fill="#333" stroke="#333" stroke-width="0.16" font-style="italic" >Tlr2</text>
<rect x="35.50" y="245.00" width="12.39" height="7.50" fill="#91bcde" stroke="#ffffff" stroke-width="0.5" stroke-opacity="0.55"/>
<rect x="47.89" y="245.00" width="12.39" height="7.50" fill="#99c1e0" stroke="#ffffff" stroke-width="0.5" stroke-opacity="0.55"/>
<rect x="60.28" y="245.00" width="12.39" height="7.50" fill="#99c1e0" stroke="#ffffff" stroke-width="0.5" stroke-opacity="0.55"/>
<rect x="72.67" y="245.00" width="12.39" height="7.50" fill="#f5a968" stroke="#ffffff" stroke-width="0.5" stroke-opacity="0.55"/>
<rect x="85.06" y="245.00" width="12.39" height="7.50" fill="#f5a968" stroke="#ffffff" stroke-width="0.5" stroke-opacity="0.55"/>
<rect x="97.45" y="245.00" width="12.39" height="7.50" fill="#f2985f" stroke="#ffffff" stroke-width="0.5" stroke-opacity="0.55"/>
<rect x="109.84" y="245.00" width="12.39" height="7.50" fill="#f3f2d5" stroke="#ffffff" stroke-width="0.5" stroke-opacity="0.55"/>
<rect x="122.23" y="245.00" width="12.39" height="7.50" fill="#fce6a8" stroke="#ffffff" stroke-width="0.5" stroke-opacity="0.55"/>
<rect x="134.62" y="245.00" width="12.39" height="7.50" fill="#fce6a8" stroke="#ffffff" stroke-width="0.5" stroke-opacity="0.55"/>
<text x="150.50" y="250.85" font-size="6" text-anchor="start" fill="#333" stroke="#333" stroke-width="0.16" font-style="italic" >Tlr9</text>
<rect x="35.50" y="252.50" width="12.39" height="7.50" fill="#91bcde" stroke="#ffffff" stroke-width="0.5" stroke-opacity="0.55"/>
<rect x="47.89" y="252.50" width="12.39" height="7.50" fill="#fbf0c4" stroke="#ffffff" stroke-width="0.5" stroke-opacity="0.55"/>
<rect x="60.28" y="252.50" width="12.39" height="7.50" fill="#fbf0c4" stroke="#ffffff" stroke-width="0.5" stroke-opacity="0.55"/>
<rect x="72.67" y="252.50" width="12.39" height="7.50" fill="#f5a968" stroke="#ffffff" stroke-width="0.5" stroke-opacity="0.55"/>
<rect x="85.06" y="252.50" width="12.39" height="7.50" fill="#f39e62" stroke="#ffffff" stroke-width="0.5" stroke-opacity="0.55"/>
<rect x="97.45" y="252.50" width="12.39" height="7.50" fill="#ef8253" stroke="#ffffff" stroke-width="0.5" stroke-opacity="0.55"/>
<rect x="109.84" y="252.50" width="12.39" height="7.50" fill="#c4ddec" stroke="#ffffff" stroke-width="0.5" stroke-opacity="0.55"/>
<rect x="122.23" y="252.50" width="12.39" height="7.50" fill="#ddeae9" stroke="#ffffff" stroke-width="0.5" stroke-opacity="0.55"/>
<rect x="134.62" y="252.50" width="12.39" height="7.50" fill="#b7d5e9" stroke="#ffffff" stroke-width="0.5" stroke-opacity="0.55"/>
<text x="150.50" y="258.35" font-size="6" text-anchor="start" fill="#333" stroke="#333" stroke-width="0.16" font-style="italic" >Tlr1</text>
<rect x="35.50" y="260.00" width="12.39" height="7.50" fill="#bcd8ea" stroke="#ffffff" stroke-width="0.5" stroke-opacity="0.55"/>
<rect x="47.89" y="260.00" width="12.39" height="7.50" fill="#fbedbb" stroke="#ffffff" stroke-width="0.5" stroke-opacity="0.55"/>
<rect x="60.28" y="260.00" width="12.39" height="7.50" fill="#fbf0c4" stroke="#ffffff" stroke-width="0.5" stroke-opacity="0.55"/>
<rect x="72.67" y="260.00" width="12.39" height="7.50" fill="#f7b46e" stroke="#ffffff" stroke-width="0.5" stroke-opacity="0.55"/>
<rect x="85.06" y="260.00" width="12.39" height="7.50" fill="#fce9b1" stroke="#ffffff" stroke-width="0.5" stroke-opacity="0.55"/>
<rect x="97.45" y="260.00" width="12.39" height="7.50" fill="#e35d40" stroke="#ffffff" stroke-width="0.5" stroke-opacity="0.55"/>
<rect x="109.84" y="260.00" width="12.39" height="7.50" fill="#a2c7e3" stroke="#ffffff" stroke-width="0.5" stroke-opacity="0.55"/>
<rect x="122.23" y="260.00" width="12.39" height="7.50" fill="#fbedbb" stroke="#ffffff" stroke-width="0.5" stroke-opacity="0.55"/>
<rect x="134.62" y="260.00" width="12.39" height="7.50" fill="#a2c7e3" stroke="#ffffff" stroke-width="0.5" stroke-opacity="0.55"/>
<text x="150.50" y="265.85" font-size="6" text-anchor="start" fill="#333" stroke="#333" stroke-width="0.16" font-style="italic" >Tlr8</text>
<rect x="35.50" y="267.50" width="12.39" height="7.50" fill="#e4ede2" stroke="#ffffff" stroke-width="0.5" stroke-opacity="0.55"/>
<rect x="47.89" y="267.50" width="12.39" height="7.50" fill="#fbedbb" stroke="#ffffff" stroke-width="0.5" stroke-opacity="0.55"/>
<rect x="60.28" y="267.50" width="12.39" height="7.50" fill="#faf2c9" stroke="#ffffff" stroke-width="0.5" stroke-opacity="0.55"/>
<rect x="72.67" y="267.50" width="12.39" height="7.50" fill="#f7b46e" stroke="#ffffff" stroke-width="0.5" stroke-opacity="0.55"/>
<rect x="85.06" y="267.50" width="12.39" height="7.50" fill="#fce9b1" stroke="#ffffff" stroke-width="0.5" stroke-opacity="0.55"/>
<rect x="97.45" y="267.50" width="12.39" height="7.50" fill="#d5352c" stroke="#ffffff" stroke-width="0.5" stroke-opacity="0.55"/>
<rect x="109.84" y="267.50" width="12.39" height="7.50" fill="#a2c7e3" stroke="#ffffff" stroke-width="0.5" stroke-opacity="0.55"/>
<rect x="122.23" y="267.50" width="12.39" height="7.50" fill="#eff0d8" stroke="#ffffff" stroke-width="0.5" stroke-opacity="0.55"/>
<rect x="134.62" y="267.50" width="12.39" height="7.50" fill="#a2c7e3" stroke="#ffffff" stroke-width="0.5" stroke-opacity="0.55"/>
<text x="150.50" y="273.35" font-size="6" text-anchor="start" fill="#333" stroke="#333" stroke-width="0.16" font-style="italic" >Tlr5</text>
<rect x="35.50" y="275.00" width="12.39" height="7.50" fill="#bcd8ea" stroke="#ffffff" stroke-width="0.5" stroke-opacity="0.55"/>
<rect x="47.89" y="275.00" width="12.39" height="7.50" fill="#faf2c9" stroke="#ffffff" stroke-width="0.5" stroke-opacity="0.55"/>
<rect x="60.28" y="275.00" width="12.39" height="7.50" fill="#faf2c9" stroke="#ffffff" stroke-width="0.5" stroke-opacity="0.55"/>
<rect x="72.67" y="275.00" width="12.39" height="7.50" fill="#f5a968" stroke="#ffffff" stroke-width="0.5" stroke-opacity="0.55"/>
<rect x="85.06" y="275.00" width="12.39" height="7.50" fill="#f7b46e" stroke="#ffffff" stroke-width="0.5" stroke-opacity="0.55"/>
<rect x="97.45" y="275.00" width="12.39" height="7.50" fill="#e35d40" stroke="#ffffff" stroke-width="0.5" stroke-opacity="0.55"/>
<rect x="109.84" y="275.00" width="12.39" height="7.50" fill="#a2c7e3" stroke="#ffffff" stroke-width="0.5" stroke-opacity="0.55"/>
<rect x="122.23" y="275.00" width="12.39" height="7.50" fill="#eff0d8" stroke="#ffffff" stroke-width="0.5" stroke-opacity="0.55"/>
<rect x="134.62" y="275.00" width="12.39" height="7.50" fill="#c4ddec" stroke="#ffffff" stroke-width="0.5" stroke-opacity="0.55"/>
<text x="150.50" y="280.85" font-size="6" text-anchor="start" fill="#333" stroke="#333" stroke-width="0.16" font-style="italic" >Tlr6</text>
<rect x="35.50" y="282.50" width="12.39" height="7.50" fill="#f7b46e" stroke="#ffffff" stroke-width="0.5" stroke-opacity="0.55"/>
<rect x="47.89" y="282.50" width="12.39" height="7.50" fill="#f9c681" stroke="#ffffff" stroke-width="0.5" stroke-opacity="0.55"/>
<rect x="60.28" y="282.50" width="12.39" height="7.50" fill="#ee7d50" stroke="#ffffff" stroke-width="0.5" stroke-opacity="0.55"/>
<rect x="72.67" y="282.50" width="12.39" height="7.50" fill="#faf2c9" stroke="#ffffff" stroke-width="0.5" stroke-opacity="0.55"/>
<rect x="85.06" y="282.50" width="12.39" height="7.50" fill="#fbedbb" stroke="#ffffff" stroke-width="0.5" stroke-opacity="0.55"/>
<rect x="97.45" y="282.50" width="12.39" height="7.50" fill="#e4ede2" stroke="#ffffff" stroke-width="0.5" stroke-opacity="0.55"/>
<rect x="109.84" y="282.50" width="12.39" height="7.50" fill="#a2c7e3" stroke="#ffffff" stroke-width="0.5" stroke-opacity="0.55"/>
<rect x="122.23" y="282.50" width="12.39" height="7.50" fill="#e4ede2" stroke="#ffffff" stroke-width="0.5" stroke-opacity="0.55"/>
<rect x="134.62" y="282.50" width="12.39" height="7.50" fill="#a2c7e3" stroke="#ffffff" stroke-width="0.5" stroke-opacity="0.55"/>
<text x="150.50" y="288.35" font-size="6" text-anchor="start" fill="#333" stroke="#333" stroke-width="0.16" font-style="italic" >Tlr4</text>
<rect x="35.50" y="290.00" width="12.39" height="7.50" fill="#da4534" stroke="#ffffff" stroke-width="0.5" stroke-opacity="0.55"/>
<rect x="47.89" y="290.00" width="12.39" height="7.50" fill="#a2c7e3" stroke="#ffffff" stroke-width="0.5" stroke-opacity="0.55"/>
<rect x="60.28" y="290.00" width="12.39" height="7.50" fill="#bcd8ea" stroke="#ffffff" stroke-width="0.5" stroke-opacity="0.55"/>
<rect x="72.67" y="290.00" width="12.39" height="7.50" fill="#fbedbb" stroke="#ffffff" stroke-width="0.5" stroke-opacity="0.55"/>
<rect x="85.06" y="290.00" width="12.39" height="7.50" fill="#fbedbb" stroke="#ffffff" stroke-width="0.5" stroke-opacity="0.55"/>
<rect x="97.45" y="290.00" width="12.39" height="7.50" fill="#fcd994" stroke="#ffffff" stroke-width="0.5" stroke-opacity="0.55"/>
<rect x="109.84" y="290.00" width="12.39" height="7.50" fill="#fbedbb" stroke="#ffffff" stroke-width="0.5" stroke-opacity="0.55"/>
<rect x="122.23" y="290.00" width="12.39" height="7.50" fill="#ddeae9" stroke="#ffffff" stroke-width="0.5" stroke-opacity="0.55"/>
<rect x="134.62" y="290.00" width="12.39" height="7.50" fill="#a2c7e3" stroke="#ffffff" stroke-width="0.5" stroke-opacity="0.55"/>
<text x="150.50" y="295.85" font-size="6" text-anchor="start" fill="#333" stroke="#333" stroke-width="0.16" font-style="italic" >Tlr7</text>
<defs><linearGradient id="cb" x1="0" y1="0" x2="0" y2="1"><stop offset="0.000" stop-color="#d22d28"/><stop offset="0.125" stop-color="#ee7d50"/><stop offset="0.250" stop-color="#f7b46e"/><stop offset="0.375" stop-color="#fde29e"/><stop offset="0.500" stop-color="#faf4ce"/><stop offset="0.625" stop-color="#d6e8f0"/><stop offset="0.750" stop-color="#aacde6"/><stop offset="0.875" stop-color="#80b0d8"/><stop offset="1.000" stop-color="#4678b4"/></linearGradient></defs>
<rect x="16.10" y="209.70" width="3.90" height="49.40" fill="url(#cb)" stroke="none" stroke-width="1" />
<text x="23.00" y="212.00" font-size="6" text-anchor="start" fill="#333" stroke="#333" stroke-width="0.16" >2</text>
<text x="23.00" y="224.00" font-size="6" text-anchor="start" fill="#333" stroke="#333" stroke-width="0.16" >1</text>
<text x="23.00" y="236.00" font-size="6" text-anchor="start" fill="#333" stroke="#333" stroke-width="0.16" >0</text>
<text x="22.60" y="248.00" font-size="6" text-anchor="start" fill="#333" stroke="#333" stroke-width="0.16" >−1</text>
<text x="22.60" y="260.00" font-size="6" text-anchor="start" fill="#333" stroke="#333" stroke-width="0.16" >−2</text>
<text x="0.00" y="0.00" font-size="5.8" text-anchor="middle" fill="#333" stroke="#333" stroke-width="0.16" textLength="56" lengthAdjust="spacingAndGlyphs" transform="translate(12.3,234.5) rotate(-90)">log2 RNA expression</text>
<text x="178.30" y="186.80" font-size="10.5" text-anchor="start" fill="#111" stroke="#111" stroke-width="0.45" font-weight="bold" >D</text>
<text x="187.30" y="195.70" font-size="6.6" text-anchor="start" fill="#222" stroke="#222" stroke-width="0.07" textLength="82" lengthAdjust="spacingAndGlyphs" >AML Acute Inflammation Model</text>
<text x="239.30" y="222.20" font-size="7" text-anchor="middle" fill="#222" stroke="#222" stroke-width="0.07" textLength="25.5" lengthAdjust="spacingAndGlyphs" >CD45.2+</text>
<text x="240.30" y="230.00" font-size="6.6" text-anchor="middle" fill="#222" stroke="#222" stroke-width="0.07" ><tspan font-style="italic">Dnmt3a</tspan><tspan font-size="3.8" dy="-2.5">+/−</tspan><tspan dy="2.5" font-style="italic"> FLT3</tspan><tspan font-size="3.8" dy="-2.5" font-style="italic">ITD</tspan></text>
<text x="239.80" y="237.80" font-size="6.8" text-anchor="middle" fill="#222" stroke="#222" stroke-width="0.07" textLength="12.5" lengthAdjust="spacingAndGlyphs" >AML</text>
<text x="192.00" y="246.30" font-size="5.8" text-anchor="start" fill="#222" stroke="#222" stroke-width="0.16" textLength="11.5" lengthAdjust="spacingAndGlyphs" >5Gy</text>
<path d="M187,245 L196,250.3 L193.4,251.7 L200.4,259.6 L189.6,253.5 L192.2,252.1 L185.4,248.4 Z" fill="#f4a534"/>
<path d="M188.5,246.6 L193.5,249.9 L192,250.8 L196.5,255.5 L190.8,252.3 L192.2,251.5 L187.8,248.4 Z" fill="#fbd06a" opacity="0.8"/>
<path d="M197.8,267.8 C196.8,262.5 202,258.2 209.5,258 C213,257.9 215.5,258.3 217,258.6 C218.2,257.2 219.8,257.3 220.3,258.8 C222.3,259.8 224.2,261.6 225,263.2 C224,264.2 222.2,264.6 220.8,265 C220.2,266.3 219.8,267.6 220.2,268.8 L218.6,269.6 C217.6,268.6 216.8,267.8 215.8,267.6 C213.5,268.8 210,269.4 207,269.3 L205.8,270.4 L203.6,270.1 C201.5,269.8 199.2,269.3 197.8,267.8 Z" fill="#3a2725"/>
<path d="M198.6,266.6 C194,266.8 191.6,268.6 193,270.6 C194.6,272.6 203,272.6 211,271.8" fill="none" stroke="#c97a6e" stroke-width="0.8"/>
<ellipse cx="218.6" cy="258.4" rx="1.3" ry="1.6" fill="#6e4e4a"/>
<path d="M203,261 C206,259.6 210,259.4 213,260" fill="none" stroke="#5a4240" stroke-width="0.6" opacity="0.7"/>
<g transform="translate(223.6,255) rotate(-50)"><rect x="0" y="-1.9" width="10" height="3.8" fill="#2a2a2a"/><rect x="1.2" y="-0.9" width="7.6" height="1.8" fill="#f2f2f2"/><line x1="10" y1="0" x2="13" y2="0" stroke="#222" stroke-width="0.9"/><line x1="13" y1="-2.3" x2="13" y2="2.3" stroke="#222" stroke-width="0.9"/><line x1="-3.2" y1="0" x2="0" y2="0" stroke="#333" stroke-width="0.6"/></g>
<text x="206.80" y="279.40" font-size="6" text-anchor="middle" fill="#222" stroke="#222" stroke-width="0.16" textLength="37" lengthAdjust="spacingAndGlyphs" >CD45.1+ WT</text>
<line x1="206.50" y1="280.00" x2="206.50" y2="284.00" stroke="#222" stroke-width="0.9" />
<rect x="206.50" y="284.20" width="86.50" height="6.20" fill="#e2e2e2" stroke="none" stroke-width="1" />
<text x="248.80" y="289.50" font-size="6.8" text-anchor="middle" fill="#333" stroke="#333" stroke-width="0.07" textLength="21.5" lengthAdjust="spacingAndGlyphs" >14 days</text>
<line x1="206.50" y1="283.60" x2="401.00" y2="283.60" stroke="#222" stroke-width="0.9" />
<path d="M399.4,280.9 L406.6,283.6 L399.4,286.3 L400.8,283.6 Z" fill="#111"/>
<text x="409.80" y="285.60" font-size="6.4" text-anchor="start" fill="#222" stroke="#222" stroke-width="0.16" textLength="20.7" lengthAdjust="spacingAndGlyphs" >Survival</text>
<path d="M293.20,249.20 C292.60,250.50 291.00,252.20 291.00,253.60 C291.00,255.00 292.00,255.60 293.20,255.60 C294.40,255.60 295.40,255.00 295.40,253.60 C295.40,252.20 293.80,250.50 293.20,249.2 Z" fill="#b3122e"/>
<text x="293.20" y="260.60" font-size="6.6" text-anchor="middle" fill="#333" stroke="#333" stroke-width="0.07" textLength="8.2" lengthAdjust="spacingAndGlyphs" >PB</text>
<line x1="293.20" y1="265.00" x2="293.20" y2="283.60" stroke="#333" stroke-width="0.8" />
<circle cx="293.20" cy="263.6" r="1.5" fill="#fff" stroke="#222" stroke-width="0.7"/>
<text x="293.20" y="291.60" font-size="5.6" text-anchor="middle" fill="#333" stroke="#333" stroke-width="0.16" >t0</text>
<path d="M307.70,249.20 C307.10,250.50 305.50,252.20 305.50,253.60 C305.50,255.00 306.50,255.60 307.70,255.60 C308.90,255.60 309.90,255.00 309.90,253.60 C309.90,252.20 308.30,250.50 307.70,249.2 Z" fill="#b3122e"/>
<text x="307.70" y="260.60" font-size="6.6" text-anchor="middle" fill="#333" stroke="#333" stroke-width="0.07" textLength="8.2" lengthAdjust="spacingAndGlyphs" >PB</text>
<line x1="307.70" y1="265.00" x2="307.70" y2="283.60" stroke="#333" stroke-width="0.8" />
<circle cx="307.70" cy="263.6" r="1.5" fill="#fff" stroke="#222" stroke-width="0.7"/>
<text x="307.70" y="291.60" font-size="5.6" text-anchor="middle" fill="#333" stroke="#333" stroke-width="0.16" >t1</text>
<path d="M346.20,249.20 C345.60,250.50 344.00,252.20 344.00,253.60 C344.00,255.00 345.00,255.60 346.20,255.60 C347.40,255.60 348.40,255.00 348.40,253.60 C348.40,252.20 346.80,250.50 346.20,249.2 Z" fill="#b3122e"/>
<text x="346.20" y="260.60" font-size="6.6" text-anchor="middle" fill="#333" stroke="#333" stroke-width="0.07" textLength="8.2" lengthAdjust="spacingAndGlyphs" >PB</text>
<line x1="346.20" y1="265.00" x2="346.20" y2="283.60" stroke="#333" stroke-width="0.8" />
<circle cx="346.20" cy="263.6" r="1.5" fill="#fff" stroke="#222" stroke-width="0.7"/>
<text x="346.20" y="291.60" font-size="5.6" text-anchor="middle" fill="#333" stroke="#333" stroke-width="0.16" >t7</text>
<path d="M388.50,249.20 C387.90,250.50 386.30,252.20 386.30,253.60 C386.30,255.00 387.30,255.60 388.50,255.60 C389.70,255.60 390.70,255.00 390.70,253.60 C390.70,252.20 389.10,250.50 388.50,249.2 Z" fill="#b3122e"/>
<text x="388.50" y="260.60" font-size="6.6" text-anchor="middle" fill="#333" stroke="#333" stroke-width="0.07" textLength="8.2" lengthAdjust="spacingAndGlyphs" >PB</text>
<line x1="388.50" y1="265.00" x2="388.50" y2="283.60" stroke="#333" stroke-width="0.8" />
<circle cx="388.50" cy="263.6" r="1.5" fill="#fff" stroke="#222" stroke-width="0.7"/>
<text x="388.50" y="291.60" font-size="5.6" text-anchor="middle" fill="#333" stroke="#333" stroke-width="0.16" >t14</text>
<line x1="297.30" y1="252.30" x2="297.30" y2="283.60" stroke="#333" stroke-width="0.8" />
<circle cx="297.3" cy="250.8" r="1.5" fill="#fff" stroke="#222" stroke-width="0.7"/>
<g transform="translate(301.5,244) rotate(-50)"><rect x="0" y="-1.6" width="9.5" height="3.2" fill="#e8b27a" stroke="#666" stroke-width="0.6"/><line x1="9.5" y1="0" x2="12.5" y2="0" stroke="#333" stroke-width="0.8"/><line x1="12.5" y1="-2.2" x2="12.5" y2="2.2" stroke="#333" stroke-width="0.8"/><line x1="-6" y1="0" x2="0" y2="0" stroke="#333" stroke-width="0.6"/></g>
<rect x="347.30" y="190.30" width="54.80" height="8.50" fill="#151515" stroke="none" stroke-width="1" />
<text x="374.70" y="196.90" font-size="6.2" text-anchor="middle" fill="#eeeeee" stroke="#eeeeee" stroke-width="0.16" textLength="19.6" lengthAdjust="spacingAndGlyphs" >Agonist</text>
<rect x="314.20" y="200.20" width="31.60" height="5.50" fill="#e6e6e6" stroke="none" stroke-width="1" />
<rect x="349.00" y="200.20" width="51.40" height="5.50" fill="#e6e6e6" stroke="none" stroke-width="1" />
<text x="330.30" y="205.05" font-size="5.8" text-anchor="middle" fill="#222" stroke="#222" stroke-width="0.16" >TLR1/2</text>
<text x="374.70" y="205.05" font-size="6" text-anchor="middle" fill="#2a2a2a" stroke="#2a2a2a" stroke-width="0.16" >Pam3CSK4</text>
<line x1="313.10" y1="207.10" x2="402.10" y2="207.10" stroke="#333" stroke-width="0.8" />
<rect x="314.20" y="208.50" width="31.60" height="5.50" fill="#ffffff" stroke="none" stroke-width="1" />
<rect x="349.00" y="208.50" width="51.40" height="5.50" fill="#ffffff" stroke="none" stroke-width="1" />
<text x="330.30" y="213.35" font-size="5.8" text-anchor="middle" fill="#222" stroke="#222" stroke-width="0.16" >TLR2/6</text>
<text x="374.70" y="213.35" font-size="6" text-anchor="middle" fill="#2a2a2a" stroke="#2a2a2a" stroke-width="0.16" >Pam2CSK4</text>
<line x1="313.10" y1="215.40" x2="402.10" y2="215.40" stroke="#333" stroke-width="0.8" />
<rect x="314.20" y="216.80" width="31.60" height="5.60" fill="#e6e6e6" stroke="none" stroke-width="1" />
<rect x="349.00" y="216.80" width="51.40" height="5.60" fill="#e6e6e6" stroke="none" stroke-width="1" />
<text x="330.30" y="221.70" font-size="5.8" text-anchor="middle" fill="#222" stroke="#222" stroke-width="0.16" >TLR3</text>
<text x="374.70" y="221.70" font-size="6" text-anchor="middle" fill="#2a2a2a" stroke="#2a2a2a" stroke-width="0.16" >Poly(I:C), (A:U)</text>
<line x1="313.10" y1="223.80" x2="402.10" y2="223.80" stroke="#333" stroke-width="0.8" />
<rect x="314.20" y="225.20" width="31.60" height="5.80" fill="#ffffff" stroke="none" stroke-width="1" />
<rect x="349.00" y="225.20" width="51.40" height="5.80" fill="#ffffff" stroke="none" stroke-width="1" />
<text x="330.30" y="230.20" font-size="5.8" text-anchor="middle" fill="#222" stroke="#222" stroke-width="0.16" >TLR4</text>
<text x="374.70" y="230.20" font-size="6" text-anchor="middle" fill="#2a2a2a" stroke="#2a2a2a" stroke-width="0.16" >LPS</text>
<line x1="313.10" y1="232.40" x2="402.10" y2="232.40" stroke="#333" stroke-width="0.8" />
<rect x="314.20" y="233.80" width="31.60" height="5.80" fill="#e6e6e6" stroke="none" stroke-width="1" />
<rect x="349.00" y="233.80" width="51.40" height="5.80" fill="#e6e6e6" stroke="none" stroke-width="1" />
<text x="330.30" y="238.80" font-size="5.8" text-anchor="middle" fill="#222" stroke="#222" stroke-width="0.16" >TLR7/8</text>
<text x="374.70" y="238.80" font-size="6" text-anchor="middle" fill="#2a2a2a" stroke="#2a2a2a" stroke-width="0.16" >R848</text>
<line x1="313.10" y1="241.00" x2="402.10" y2="241.00" stroke="#333" stroke-width="0.8" />
<line x1="313.10" y1="198.80" x2="402.10" y2="198.80" stroke="#333" stroke-width="0.8" />
<line x1="313.10" y1="198.80" x2="313.10" y2="241.00" stroke="#333" stroke-width="0.9" />
<line x1="347.50" y1="198.80" x2="347.50" y2="241.00" stroke="#333" stroke-width="0.8" />
<line x1="401.70" y1="198.80" x2="401.70" y2="241.00" stroke="#333" stroke-width="0.9" />
<text x="6.50" y="322.60" font-size="10.5" text-anchor="start" fill="#111" stroke="#111" stroke-width="0.45" font-weight="bold" >E</text>
<polyline points="33.20,363.38 38.79,342.75 72.33,374.38 111.46,346.88" fill="none" stroke="#f2b24f" stroke-width="1.0" />
<line x1="33.20" y1="367.50" x2="33.20" y2="359.25" stroke="#f2b24f" stroke-width="0.8" />
<line x1="31.90" y1="367.50" x2="34.50" y2="367.50" stroke="#f2b24f" stroke-width="0.7" />
<line x1="31.90" y1="359.25" x2="34.50" y2="359.25" stroke="#f2b24f" stroke-width="0.7" />
<circle cx="33.20" cy="363.38" r="1.4" fill="#f2b24f" />
<line x1="38.79" y1="345.50" x2="38.79" y2="340.00" stroke="#f2b24f" stroke-width="0.8" />
<line x1="37.49" y1="345.50" x2="40.09" y2="345.50" stroke="#f2b24f" stroke-width="0.7" />
<line x1="37.49" y1="340.00" x2="40.09" y2="340.00" stroke="#f2b24f" stroke-width="0.7" />
<circle cx="38.79" cy="342.75" r="1.4" fill="#f2b24f" />
<line x1="72.33" y1="378.50" x2="72.33" y2="370.25" stroke="#f2b24f" stroke-width="0.8" />
<line x1="71.03" y1="378.50" x2="73.63" y2="378.50" stroke="#f2b24f" stroke-width="0.7" />
<line x1="71.03" y1="370.25" x2="73.63" y2="370.25" stroke="#f2b24f" stroke-width="0.7" />
<circle cx="72.33" cy="374.38" r="1.4" fill="#f2b24f" />
<line x1="111.46" y1="348.25" x2="111.46" y2="345.50" stroke="#f2b24f" stroke-width="0.8" />
<line x1="110.16" y1="348.25" x2="112.76" y2="348.25" stroke="#f2b24f" stroke-width="0.7" />
<line x1="110.16" y1="345.50" x2="112.76" y2="345.50" stroke="#f2b24f" stroke-width="0.7" />
<circle cx="111.46" cy="346.88" r="1.4" fill="#f2b24f" />
<polyline points="33.20,366.12 38.79,341.93 72.33,355.12 111.46,344.12" fill="none" stroke="#b51f3e" stroke-width="1.0" />
<line x1="33.20" y1="370.25" x2="33.20" y2="362.00" stroke="#b51f3e" stroke-width="0.8" />
<line x1="31.90" y1="370.25" x2="34.50" y2="370.25" stroke="#b51f3e" stroke-width="0.7" />
<line x1="31.90" y1="362.00" x2="34.50" y2="362.00" stroke="#b51f3e" stroke-width="0.7" />
<circle cx="33.20" cy="366.12" r="1.4" fill="#b51f3e" />
<line x1="38.79" y1="343.30" x2="38.79" y2="340.55" stroke="#b51f3e" stroke-width="0.8" />
<line x1="37.49" y1="343.30" x2="40.09" y2="343.30" stroke="#b51f3e" stroke-width="0.7" />
<line x1="37.49" y1="340.55" x2="40.09" y2="340.55" stroke="#b51f3e" stroke-width="0.7" />
<circle cx="38.79" cy="341.93" r="1.4" fill="#b51f3e" />
<line x1="72.33" y1="359.25" x2="72.33" y2="351.00" stroke="#b51f3e" stroke-width="0.8" />
<line x1="71.03" y1="359.25" x2="73.63" y2="359.25" stroke="#b51f3e" stroke-width="0.7" />
<line x1="71.03" y1="351.00" x2="73.63" y2="351.00" stroke="#b51f3e" stroke-width="0.7" />
<circle cx="72.33" cy="355.12" r="1.4" fill="#b51f3e" />
<line x1="111.46" y1="345.50" x2="111.46" y2="342.75" stroke="#b51f3e" stroke-width="0.8" />
<line x1="110.16" y1="345.50" x2="112.76" y2="345.50" stroke="#b51f3e" stroke-width="0.7" />
<line x1="110.16" y1="342.75" x2="112.76" y2="342.75" stroke="#b51f3e" stroke-width="0.7" />
<circle cx="111.46" cy="344.12" r="1.4" fill="#b51f3e" />
<polyline points="33.20,360.62 38.79,362.00 72.33,355.12 111.46,341.93" fill="none" stroke="#2c5c94" stroke-width="1.0" />
<line x1="33.20" y1="364.75" x2="33.20" y2="356.50" stroke="#2c5c94" stroke-width="0.8" />
<line x1="31.90" y1="364.75" x2="34.50" y2="364.75" stroke="#2c5c94" stroke-width="0.7" />
<line x1="31.90" y1="356.50" x2="34.50" y2="356.50" stroke="#2c5c94" stroke-width="0.7" />
<circle cx="33.20" cy="360.62" r="1.4" fill="#2c5c94" />
<line x1="38.79" y1="367.50" x2="38.79" y2="356.50" stroke="#2c5c94" stroke-width="0.8" />
<line x1="37.49" y1="367.50" x2="40.09" y2="367.50" stroke="#2c5c94" stroke-width="0.7" />
<line x1="37.49" y1="356.50" x2="40.09" y2="356.50" stroke="#2c5c94" stroke-width="0.7" />
<circle cx="38.79" cy="362.00" r="1.4" fill="#2c5c94" />
<line x1="72.33" y1="358.43" x2="72.33" y2="351.82" stroke="#2c5c94" stroke-width="0.8" />
<line x1="71.03" y1="358.43" x2="73.63" y2="358.43" stroke="#2c5c94" stroke-width="0.7" />
<line x1="71.03" y1="351.82" x2="73.63" y2="351.82" stroke="#2c5c94" stroke-width="0.7" />
<circle cx="72.33" cy="355.12" r="1.4" fill="#2c5c94" />
<line x1="111.46" y1="343.30" x2="111.46" y2="340.55" stroke="#2c5c94" stroke-width="0.8" />
<line x1="110.16" y1="343.30" x2="112.76" y2="343.30" stroke="#2c5c94" stroke-width="0.7" />
<line x1="110.16" y1="340.55" x2="112.76" y2="340.55" stroke="#2c5c94" stroke-width="0.7" />
<circle cx="111.46" cy="341.93" r="1.4" fill="#2c5c94" />
<line x1="33.50" y1="332.00" x2="33.50" y2="390.30" stroke="#111" stroke-width="1.1" />
<line x1="33.50" y1="389.80" x2="117.55" y2="389.80" stroke="#111" stroke-width="1.2" />
<line x1="29.70" y1="389.50" x2="32.70" y2="389.50" stroke="#222" stroke-width="0.9" />
<text x="28.20" y="391.60" font-size="5.8" text-anchor="end" fill="#333" stroke="#333" stroke-width="0.16" >80</text>
<line x1="29.70" y1="375.75" x2="32.70" y2="375.75" stroke="#222" stroke-width="0.9" />
<text x="28.20" y="377.85" font-size="5.8" text-anchor="end" fill="#333" stroke="#333" stroke-width="0.16" >85</text>
<line x1="29.70" y1="362.00" x2="32.70" y2="362.00" stroke="#222" stroke-width="0.9" />
<text x="28.20" y="364.10" font-size="5.8" text-anchor="end" fill="#333" stroke="#333" stroke-width="0.16" >90</text>
<line x1="29.70" y1="348.25" x2="32.70" y2="348.25" stroke="#222" stroke-width="0.9" />
<text x="28.20" y="350.35" font-size="5.8" text-anchor="end" fill="#333" stroke="#333" stroke-width="0.16" >95</text>
<line x1="29.70" y1="334.50" x2="32.70" y2="334.50" stroke="#222" stroke-width="0.9" />
<text x="28.20" y="336.60" font-size="5.8" text-anchor="end" fill="#333" stroke="#333" stroke-width="0.16" >100</text>
<line x1="33.20" y1="390.00" x2="33.20" y2="393.00" stroke="#222" stroke-width="0.9" />
<text x="33.20" y="399.10" font-size="5.8" text-anchor="middle" fill="#333" stroke="#333" stroke-width="0.16" >0</text>
<line x1="61.15" y1="390.00" x2="61.15" y2="393.00" stroke="#222" stroke-width="0.9" />
<text x="61.15" y="399.10" font-size="5.8" text-anchor="middle" fill="#333" stroke="#333" stroke-width="0.16" >5</text>
<line x1="89.10" y1="390.00" x2="89.10" y2="393.00" stroke="#222" stroke-width="0.9" />
<text x="89.10" y="399.10" font-size="5.8" text-anchor="middle" fill="#333" stroke="#333" stroke-width="0.16" >10</text>
<line x1="117.05" y1="390.00" x2="117.05" y2="393.00" stroke="#222" stroke-width="0.9" />
<text x="117.05" y="399.10" font-size="5.8" text-anchor="middle" fill="#333" stroke="#333" stroke-width="0.16" >15</text>
<line x1="33.20" y1="403.50" x2="33.20" y2="407.70" stroke="#111" stroke-width="0.8" />
<path d="M31.70,405 L33.20,402.2 L34.70,405 Z" fill="#111"/>
<text x="76.30" y="410.80" font-size="8.4" text-anchor="middle" fill="#222" stroke="#222" stroke-width="0.3" textLength="51" lengthAdjust="spacingAndGlyphs" >Days post-treatment</text>
<text x="0.00" y="0.00" font-size="8" text-anchor="middle" fill="#222" stroke="#222" stroke-width="0.28" textLength="37.6" lengthAdjust="spacingAndGlyphs" transform="translate(13.30,362.00) rotate(-90)">% CD45.2+ PB</text>
<text x="38.79" y="336.90" font-size="5.5" text-anchor="middle" fill="#b51f3e" stroke="#b51f3e" stroke-width="0.16" >*</text>
<text x="38.79" y="341.02" font-size="5.5" text-anchor="middle" fill="#f2b24f" stroke="#f2b24f" stroke-width="0.16" >*</text>
<text x="72.33" y="352.02" font-size="5.5" text-anchor="middle" fill="#f2b24f" stroke="#f2b24f" stroke-width="0.16" >*</text>
<polyline points="144.20,362.00 149.77,340.00 183.19,375.75 222.18,345.50" fill="none" stroke="#3f9f45" stroke-width="1.0" />
<line x1="144.20" y1="364.75" x2="144.20" y2="359.25" stroke="#3f9f45" stroke-width="0.8" />
<line x1="142.90" y1="364.75" x2="145.50" y2="364.75" stroke="#3f9f45" stroke-width="0.7" />
<line x1="142.90" y1="359.25" x2="145.50" y2="359.25" stroke="#3f9f45" stroke-width="0.7" />
<circle cx="144.20" cy="362.00" r="1.4" fill="#3f9f45" />
<line x1="149.77" y1="341.38" x2="149.77" y2="338.62" stroke="#3f9f45" stroke-width="0.8" />
<line x1="148.47" y1="341.38" x2="151.07" y2="341.38" stroke="#3f9f45" stroke-width="0.7" />
<line x1="148.47" y1="338.62" x2="151.07" y2="338.62" stroke="#3f9f45" stroke-width="0.7" />
<circle cx="149.77" cy="340.00" r="1.4" fill="#3f9f45" />
<line x1="183.19" y1="378.50" x2="183.19" y2="373.00" stroke="#3f9f45" stroke-width="0.8" />
<line x1="181.89" y1="378.50" x2="184.49" y2="378.50" stroke="#3f9f45" stroke-width="0.7" />
<line x1="181.89" y1="373.00" x2="184.49" y2="373.00" stroke="#3f9f45" stroke-width="0.7" />
<circle cx="183.19" cy="375.75" r="1.4" fill="#3f9f45" />
<line x1="222.18" y1="346.88" x2="222.18" y2="344.12" stroke="#3f9f45" stroke-width="0.8" />
<line x1="220.88" y1="346.88" x2="223.48" y2="346.88" stroke="#3f9f45" stroke-width="0.7" />
<line x1="220.88" y1="344.12" x2="223.48" y2="344.12" stroke="#3f9f45" stroke-width="0.7" />
<circle cx="222.18" cy="345.50" r="1.4" fill="#3f9f45" />
<polyline points="144.20,363.38 149.77,363.38 183.19,366.12 222.18,342.75" fill="none" stroke="#9b8fd0" stroke-width="1.0" />
<line x1="144.20" y1="366.12" x2="144.20" y2="360.62" stroke="#9b8fd0" stroke-width="0.8" />
<line x1="142.90" y1="366.12" x2="145.50" y2="366.12" stroke="#9b8fd0" stroke-width="0.7" />
<line x1="142.90" y1="360.62" x2="145.50" y2="360.62" stroke="#9b8fd0" stroke-width="0.7" />
<circle cx="144.20" cy="363.38" r="1.4" fill="#9b8fd0" />
<line x1="149.77" y1="367.50" x2="149.77" y2="359.25" stroke="#9b8fd0" stroke-width="0.8" />
<line x1="148.47" y1="367.50" x2="151.07" y2="367.50" stroke="#9b8fd0" stroke-width="0.7" />
<line x1="148.47" y1="359.25" x2="151.07" y2="359.25" stroke="#9b8fd0" stroke-width="0.7" />
<circle cx="149.77" cy="363.38" r="1.4" fill="#9b8fd0" />
<line x1="183.19" y1="368.88" x2="183.19" y2="363.38" stroke="#9b8fd0" stroke-width="0.8" />
<line x1="181.89" y1="368.88" x2="184.49" y2="368.88" stroke="#9b8fd0" stroke-width="0.7" />
<line x1="181.89" y1="363.38" x2="184.49" y2="363.38" stroke="#9b8fd0" stroke-width="0.7" />
<circle cx="183.19" cy="366.12" r="1.4" fill="#9b8fd0" />
<line x1="222.18" y1="344.12" x2="222.18" y2="341.38" stroke="#9b8fd0" stroke-width="0.8" />
<line x1="220.88" y1="344.12" x2="223.48" y2="344.12" stroke="#9b8fd0" stroke-width="0.7" />
<line x1="220.88" y1="341.38" x2="223.48" y2="341.38" stroke="#9b8fd0" stroke-width="0.7" />
<circle cx="222.18" cy="342.75" r="1.4" fill="#9b8fd0" />
<polyline points="144.20,356.50 149.77,348.25 183.19,359.25 222.18,342.75" fill="none" stroke="#c8207a" stroke-width="1.0" />
<line x1="144.20" y1="359.25" x2="144.20" y2="353.75" stroke="#c8207a" stroke-width="0.8" />
<line x1="142.90" y1="359.25" x2="145.50" y2="359.25" stroke="#c8207a" stroke-width="0.7" />
<line x1="142.90" y1="353.75" x2="145.50" y2="353.75" stroke="#c8207a" stroke-width="0.7" />
<circle cx="144.20" cy="356.50" r="1.4" fill="#c8207a" />
<line x1="149.77" y1="351.00" x2="149.77" y2="345.50" stroke="#c8207a" stroke-width="0.8" />
<line x1="148.47" y1="351.00" x2="151.07" y2="351.00" stroke="#c8207a" stroke-width="0.7" />
<line x1="148.47" y1="345.50" x2="151.07" y2="345.50" stroke="#c8207a" stroke-width="0.7" />
<circle cx="149.77" cy="348.25" r="1.4" fill="#c8207a" />
<line x1="183.19" y1="362.00" x2="183.19" y2="356.50" stroke="#c8207a" stroke-width="0.8" />
<line x1="181.89" y1="362.00" x2="184.49" y2="362.00" stroke="#c8207a" stroke-width="0.7" />
<line x1="181.89" y1="356.50" x2="184.49" y2="356.50" stroke="#c8207a" stroke-width="0.7" />
<circle cx="183.19" cy="359.25" r="1.4" fill="#c8207a" />
<line x1="222.18" y1="344.12" x2="222.18" y2="341.38" stroke="#c8207a" stroke-width="0.8" />
<line x1="220.88" y1="344.12" x2="223.48" y2="344.12" stroke="#c8207a" stroke-width="0.7" />
<line x1="220.88" y1="341.38" x2="223.48" y2="341.38" stroke="#c8207a" stroke-width="0.7" />
<circle cx="222.18" cy="342.75" r="1.4" fill="#c8207a" />
<polyline points="144.20,359.25 149.77,346.88 183.19,355.12 222.18,341.38" fill="none" stroke="#3fa6d6" stroke-width="1.0" />
<line x1="144.20" y1="362.00" x2="144.20" y2="356.50" stroke="#3fa6d6" stroke-width="0.8" />
<line x1="142.90" y1="362.00" x2="145.50" y2="362.00" stroke="#3fa6d6" stroke-width="0.7" />
<line x1="142.90" y1="356.50" x2="145.50" y2="356.50" stroke="#3fa6d6" stroke-width="0.7" />
<circle cx="144.20" cy="359.25" r="1.4" fill="#3fa6d6" />
<line x1="149.77" y1="349.62" x2="149.77" y2="344.12" stroke="#3fa6d6" stroke-width="0.8" />
<line x1="148.47" y1="349.62" x2="151.07" y2="349.62" stroke="#3fa6d6" stroke-width="0.7" />
<line x1="148.47" y1="344.12" x2="151.07" y2="344.12" stroke="#3fa6d6" stroke-width="0.7" />
<circle cx="149.77" cy="346.88" r="1.4" fill="#3fa6d6" />
<line x1="183.19" y1="359.25" x2="183.19" y2="351.00" stroke="#3fa6d6" stroke-width="0.8" />
<line x1="181.89" y1="359.25" x2="184.49" y2="359.25" stroke="#3fa6d6" stroke-width="0.7" />
<line x1="181.89" y1="351.00" x2="184.49" y2="351.00" stroke="#3fa6d6" stroke-width="0.7" />
<circle cx="183.19" cy="355.12" r="1.4" fill="#3fa6d6" />
<line x1="222.18" y1="342.75" x2="222.18" y2="340.00" stroke="#3fa6d6" stroke-width="0.8" />
<line x1="220.88" y1="342.75" x2="223.48" y2="342.75" stroke="#3fa6d6" stroke-width="0.7" />
<line x1="220.88" y1="340.00" x2="223.48" y2="340.00" stroke="#3fa6d6" stroke-width="0.7" />
<circle cx="222.18" cy="341.38" r="1.4" fill="#3fa6d6" />
<polyline points="144.20,360.62 149.77,362.00 183.19,355.12 222.18,341.93" fill="none" stroke="#2c5c94" stroke-width="1.0" />
<line x1="144.20" y1="364.75" x2="144.20" y2="356.50" stroke="#2c5c94" stroke-width="0.8" />
<line x1="142.90" y1="364.75" x2="145.50" y2="364.75" stroke="#2c5c94" stroke-width="0.7" />
<line x1="142.90" y1="356.50" x2="145.50" y2="356.50" stroke="#2c5c94" stroke-width="0.7" />
<circle cx="144.20" cy="360.62" r="1.4" fill="#2c5c94" />
<line x1="149.77" y1="367.50" x2="149.77" y2="356.50" stroke="#2c5c94" stroke-width="0.8" />
<line x1="148.47" y1="367.50" x2="151.07" y2="367.50" stroke="#2c5c94" stroke-width="0.7" />
<line x1="148.47" y1="356.50" x2="151.07" y2="356.50" stroke="#2c5c94" stroke-width="0.7" />
<circle cx="149.77" cy="362.00" r="1.4" fill="#2c5c94" />
<line x1="183.19" y1="358.43" x2="183.19" y2="351.82" stroke="#2c5c94" stroke-width="0.8" />
<line x1="181.89" y1="358.43" x2="184.49" y2="358.43" stroke="#2c5c94" stroke-width="0.7" />
<line x1="181.89" y1="351.82" x2="184.49" y2="351.82" stroke="#2c5c94" stroke-width="0.7" />
<circle cx="183.19" cy="355.12" r="1.4" fill="#2c5c94" />
<line x1="222.18" y1="343.30" x2="222.18" y2="340.55" stroke="#2c5c94" stroke-width="0.8" />
<line x1="220.88" y1="343.30" x2="223.48" y2="343.30" stroke="#2c5c94" stroke-width="0.7" />
<line x1="220.88" y1="340.55" x2="223.48" y2="340.55" stroke="#2c5c94" stroke-width="0.7" />
<circle cx="222.18" cy="341.93" r="1.4" fill="#2c5c94" />
<line x1="144.50" y1="332.00" x2="144.50" y2="390.30" stroke="#111" stroke-width="1.1" />
<line x1="144.50" y1="389.80" x2="228.25" y2="389.80" stroke="#111" stroke-width="1.2" />
<line x1="140.70" y1="389.50" x2="143.70" y2="389.50" stroke="#222" stroke-width="0.9" />
<text x="139.20" y="391.60" font-size="5.8" text-anchor="end" fill="#333" stroke="#333" stroke-width="0.16" >80</text>
<line x1="140.70" y1="375.75" x2="143.70" y2="375.75" stroke="#222" stroke-width="0.9" />
<text x="139.20" y="377.85" font-size="5.8" text-anchor="end" fill="#333" stroke="#333" stroke-width="0.16" >85</text>
<line x1="140.70" y1="362.00" x2="143.70" y2="362.00" stroke="#222" stroke-width="0.9" />
<text x="139.20" y="364.10" font-size="5.8" text-anchor="end" fill="#333" stroke="#333" stroke-width="0.16" >90</text>
<line x1="140.70" y1="348.25" x2="143.70" y2="348.25" stroke="#222" stroke-width="0.9" />
<text x="139.20" y="350.35" font-size="5.8" text-anchor="end" fill="#333" stroke="#333" stroke-width="0.16" >95</text>
<line x1="140.70" y1="334.50" x2="143.70" y2="334.50" stroke="#222" stroke-width="0.9" />
<text x="139.20" y="336.60" font-size="5.8" text-anchor="end" fill="#333" stroke="#333" stroke-width="0.16" >100</text>
<line x1="144.20" y1="390.00" x2="144.20" y2="393.00" stroke="#222" stroke-width="0.9" />
<text x="144.20" y="399.10" font-size="5.8" text-anchor="middle" fill="#333" stroke="#333" stroke-width="0.16" >0</text>
<line x1="172.05" y1="390.00" x2="172.05" y2="393.00" stroke="#222" stroke-width="0.9" />
<text x="172.05" y="399.10" font-size="5.8" text-anchor="middle" fill="#333" stroke="#333" stroke-width="0.16" >5</text>
<line x1="199.90" y1="390.00" x2="199.90" y2="393.00" stroke="#222" stroke-width="0.9" />
<text x="199.90" y="399.10" font-size="5.8" text-anchor="middle" fill="#333" stroke="#333" stroke-width="0.16" >10</text>
<line x1="227.75" y1="390.00" x2="227.75" y2="393.00" stroke="#222" stroke-width="0.9" />
<text x="227.75" y="399.10" font-size="5.8" text-anchor="middle" fill="#333" stroke="#333" stroke-width="0.16" >15</text>
<line x1="144.20" y1="403.50" x2="144.20" y2="407.70" stroke="#111" stroke-width="0.8" />
<path d="M142.70,405 L144.20,402.2 L145.70,405 Z" fill="#111"/>
<text x="185.00" y="410.80" font-size="8.4" text-anchor="middle" fill="#222" stroke="#222" stroke-width="0.3" textLength="51" lengthAdjust="spacingAndGlyphs" >Days post-treatment</text>
<text x="149.77" y="340.20" font-size="5.5" text-anchor="middle" fill="#3f9f45" stroke="#3f9f45" stroke-width="0.16" >*</text>
<text x="183.19" y="352.02" font-size="5.5" text-anchor="middle" fill="#8a9ab8" stroke="#8a9ab8" stroke-width="0.16" >*</text>
<text x="183.19" y="382.55" font-size="5.5" text-anchor="middle" fill="#3f9f45" stroke="#3f9f45" stroke-width="0.16" >*</text>
<text x="245.00" y="322.60" font-size="10.5" text-anchor="start" fill="#111" stroke="#111" stroke-width="0.45" font-weight="bold" >F</text>
<polyline points="273.30,352.41 278.68,351.74 310.96,361.15 348.62,368.55" fill="none" stroke="#f2b24f" stroke-width="1.0" />
<line x1="273.30" y1="354.43" x2="273.30" y2="350.39" stroke="#f2b24f" stroke-width="0.8" />
<line x1="272.00" y1="354.43" x2="274.60" y2="354.43" stroke="#f2b24f" stroke-width="0.7" />
<line x1="272.00" y1="350.39" x2="274.60" y2="350.39" stroke="#f2b24f" stroke-width="0.7" />
<circle cx="273.30" cy="352.41" r="1.4" fill="#f2b24f" />
<line x1="278.68" y1="353.08" x2="278.68" y2="350.39" stroke="#f2b24f" stroke-width="0.8" />
<line x1="277.38" y1="353.08" x2="279.98" y2="353.08" stroke="#f2b24f" stroke-width="0.7" />
<line x1="277.38" y1="350.39" x2="279.98" y2="350.39" stroke="#f2b24f" stroke-width="0.7" />
<circle cx="278.68" cy="351.74" r="1.4" fill="#f2b24f" />
<line x1="310.96" y1="361.83" x2="310.96" y2="360.48" stroke="#f2b24f" stroke-width="0.8" />
<line x1="309.66" y1="361.83" x2="312.26" y2="361.83" stroke="#f2b24f" stroke-width="0.7" />
<line x1="309.66" y1="360.48" x2="312.26" y2="360.48" stroke="#f2b24f" stroke-width="0.7" />
<circle cx="310.96" cy="361.15" r="1.4" fill="#f2b24f" />
<line x1="348.62" y1="370.57" x2="348.62" y2="366.53" stroke="#f2b24f" stroke-width="0.8" />
<line x1="347.32" y1="370.57" x2="349.92" y2="370.57" stroke="#f2b24f" stroke-width="0.7" />
<line x1="347.32" y1="366.53" x2="349.92" y2="366.53" stroke="#f2b24f" stroke-width="0.7" />
<circle cx="348.62" cy="368.55" r="1.4" fill="#f2b24f" />
<polyline points="273.30,357.79 278.68,359.81 310.96,365.86 348.62,366.53" fill="none" stroke="#2c5c94" stroke-width="1.0" />
<line x1="273.30" y1="359.81" x2="273.30" y2="355.77" stroke="#2c5c94" stroke-width="0.8" />
<line x1="272.00" y1="359.81" x2="274.60" y2="359.81" stroke="#2c5c94" stroke-width="0.7" />
<line x1="272.00" y1="355.77" x2="274.60" y2="355.77" stroke="#2c5c94" stroke-width="0.7" />
<circle cx="273.30" cy="357.79" r="1.4" fill="#2c5c94" />
<line x1="278.68" y1="362.50" x2="278.68" y2="357.12" stroke="#2c5c94" stroke-width="0.8" />
<line x1="277.38" y1="362.50" x2="279.98" y2="362.50" stroke="#2c5c94" stroke-width="0.7" />
<line x1="277.38" y1="357.12" x2="279.98" y2="357.12" stroke="#2c5c94" stroke-width="0.7" />
<circle cx="278.68" cy="359.81" r="1.4" fill="#2c5c94" />
<line x1="310.96" y1="366.87" x2="310.96" y2="364.85" stroke="#2c5c94" stroke-width="0.8" />
<line x1="309.66" y1="366.87" x2="312.26" y2="366.87" stroke="#2c5c94" stroke-width="0.7" />
<line x1="309.66" y1="364.85" x2="312.26" y2="364.85" stroke="#2c5c94" stroke-width="0.7" />
<circle cx="310.96" cy="365.86" r="1.4" fill="#2c5c94" />
<line x1="348.62" y1="369.90" x2="348.62" y2="363.17" stroke="#2c5c94" stroke-width="0.8" />
<line x1="347.32" y1="369.90" x2="349.92" y2="369.90" stroke="#2c5c94" stroke-width="0.7" />
<line x1="347.32" y1="363.17" x2="349.92" y2="363.17" stroke="#2c5c94" stroke-width="0.7" />
<circle cx="348.62" cy="366.53" r="1.4" fill="#2c5c94" />
<polyline points="273.30,349.05 278.68,340.98 310.96,353.08 348.62,369.90" fill="none" stroke="#b51f3e" stroke-width="1.0" />
<line x1="273.30" y1="352.41" x2="273.30" y2="345.69" stroke="#b51f3e" stroke-width="0.8" />
<line x1="272.00" y1="352.41" x2="274.60" y2="352.41" stroke="#b51f3e" stroke-width="0.7" />
<line x1="272.00" y1="345.69" x2="274.60" y2="345.69" stroke="#b51f3e" stroke-width="0.7" />
<circle cx="273.30" cy="349.05" r="1.4" fill="#b51f3e" />
<line x1="278.68" y1="343.00" x2="278.68" y2="338.96" stroke="#b51f3e" stroke-width="0.8" />
<line x1="277.38" y1="343.00" x2="279.98" y2="343.00" stroke="#b51f3e" stroke-width="0.7" />
<line x1="277.38" y1="338.96" x2="279.98" y2="338.96" stroke="#b51f3e" stroke-width="0.7" />
<circle cx="278.68" cy="340.98" r="1.4" fill="#b51f3e" />
<line x1="310.96" y1="353.76" x2="310.96" y2="352.41" stroke="#b51f3e" stroke-width="0.8" />
<line x1="309.66" y1="353.76" x2="312.26" y2="353.76" stroke="#b51f3e" stroke-width="0.7" />
<line x1="309.66" y1="352.41" x2="312.26" y2="352.41" stroke="#b51f3e" stroke-width="0.7" />
<circle cx="310.96" cy="353.08" r="1.4" fill="#b51f3e" />
<line x1="348.62" y1="372.59" x2="348.62" y2="367.21" stroke="#b51f3e" stroke-width="0.8" />
<line x1="347.32" y1="372.59" x2="349.92" y2="372.59" stroke="#b51f3e" stroke-width="0.7" />
<line x1="347.32" y1="367.21" x2="349.92" y2="367.21" stroke="#b51f3e" stroke-width="0.7" />
<circle cx="348.62" cy="369.90" r="1.4" fill="#b51f3e" />
<line x1="273.50" y1="333.10" x2="273.50" y2="390.20" stroke="#111" stroke-width="1.1" />
<line x1="273.50" y1="389.70" x2="354.50" y2="389.70" stroke="#111" stroke-width="1.2" />
<line x1="269.80" y1="389.40" x2="272.80" y2="389.40" stroke="#222" stroke-width="0.9" />
<text x="268.30" y="391.50" font-size="5.8" text-anchor="end" fill="#333" stroke="#333" stroke-width="0.16" >0</text>
<line x1="269.80" y1="375.95" x2="272.80" y2="375.95" stroke="#222" stroke-width="0.9" />
<text x="268.30" y="378.05" font-size="5.8" text-anchor="end" fill="#333" stroke="#333" stroke-width="0.16" >20</text>
<line x1="269.80" y1="362.50" x2="272.80" y2="362.50" stroke="#222" stroke-width="0.9" />
<text x="268.30" y="364.60" font-size="5.8" text-anchor="end" fill="#333" stroke="#333" stroke-width="0.16" >40</text>
<line x1="269.80" y1="349.05" x2="272.80" y2="349.05" stroke="#222" stroke-width="0.9" />
<text x="268.30" y="351.15" font-size="5.8" text-anchor="end" fill="#333" stroke="#333" stroke-width="0.16" >60</text>
<line x1="269.80" y1="335.60" x2="272.80" y2="335.60" stroke="#222" stroke-width="0.9" />
<text x="268.30" y="337.70" font-size="5.8" text-anchor="end" fill="#333" stroke="#333" stroke-width="0.16" >80</text>
<line x1="273.30" y1="389.90" x2="273.30" y2="392.90" stroke="#222" stroke-width="0.9" />
<text x="273.30" y="399.00" font-size="5.8" text-anchor="middle" fill="#333" stroke="#333" stroke-width="0.16" >0</text>
<line x1="300.20" y1="389.90" x2="300.20" y2="392.90" stroke="#222" stroke-width="0.9" />
<text x="300.20" y="399.00" font-size="5.8" text-anchor="middle" fill="#333" stroke="#333" stroke-width="0.16" >5</text>
<line x1="327.10" y1="389.90" x2="327.10" y2="392.90" stroke="#222" stroke-width="0.9" />
<text x="327.10" y="399.00" font-size="5.8" text-anchor="middle" fill="#333" stroke="#333" stroke-width="0.16" >10</text>
<line x1="354.00" y1="389.90" x2="354.00" y2="392.90" stroke="#222" stroke-width="0.9" />
<text x="354.00" y="399.00" font-size="5.8" text-anchor="middle" fill="#333" stroke="#333" stroke-width="0.16" >15</text>
<line x1="273.30" y1="403.50" x2="273.30" y2="407.70" stroke="#111" stroke-width="0.8" />
<path d="M271.80,405 L273.30,402.2 L274.80,405 Z" fill="#111"/>
<text x="315.00" y="410.80" font-size="8.4" text-anchor="middle" fill="#222" stroke="#222" stroke-width="0.3" textLength="51" lengthAdjust="spacingAndGlyphs" >Days post-treatment</text>
<text x="0.00" y="0.00" font-size="8" text-anchor="middle" fill="#222" stroke="#222" stroke-width="0.28" textLength="67" lengthAdjust="spacingAndGlyphs" transform="translate(257.30,362.50) rotate(-90)">% CD11b+ of CD45.2+ PB</text>
<text x="278.68" y="339.68" font-size="5.5" text-anchor="middle" fill="#b51f3e" stroke="#b51f3e" stroke-width="0.16" >***</text>
<text x="310.96" y="348.09" font-size="5.5" text-anchor="middle" fill="#b51f3e" stroke="#b51f3e" stroke-width="0.16" >****</text>
<text x="310.96" y="351.79" font-size="5.5" text-anchor="middle" fill="#f2b24f" stroke="#f2b24f" stroke-width="0.16" >*</text>
<text x="348.62" y="362.21" font-size="5.5" text-anchor="middle" fill="#999999" stroke="#999999" stroke-width="0.16" >*</text>
<polyline points="378.70,357.12 384.40,375.28 418.60,352.41 458.50,365.86" fill="none" stroke="#3f9f45" stroke-width="1.0" />
<line x1="378.70" y1="359.14" x2="378.70" y2="355.10" stroke="#3f9f45" stroke-width="0.8" />
<line x1="377.40" y1="359.14" x2="380.00" y2="359.14" stroke="#3f9f45" stroke-width="0.7" />
<line x1="377.40" y1="355.10" x2="380.00" y2="355.10" stroke="#3f9f45" stroke-width="0.7" />
<circle cx="378.70" cy="357.12" r="1.4" fill="#3f9f45" />
<line x1="384.40" y1="376.62" x2="384.40" y2="373.93" stroke="#3f9f45" stroke-width="0.8" />
<line x1="383.10" y1="376.62" x2="385.70" y2="376.62" stroke="#3f9f45" stroke-width="0.7" />
<line x1="383.10" y1="373.93" x2="385.70" y2="373.93" stroke="#3f9f45" stroke-width="0.7" />
<circle cx="384.40" cy="375.28" r="1.4" fill="#3f9f45" />
<line x1="418.60" y1="353.76" x2="418.60" y2="351.07" stroke="#3f9f45" stroke-width="0.8" />
<line x1="417.30" y1="353.76" x2="419.90" y2="353.76" stroke="#3f9f45" stroke-width="0.7" />
<line x1="417.30" y1="351.07" x2="419.90" y2="351.07" stroke="#3f9f45" stroke-width="0.7" />
<circle cx="418.60" cy="352.41" r="1.4" fill="#3f9f45" />
<line x1="458.50" y1="367.88" x2="458.50" y2="363.84" stroke="#3f9f45" stroke-width="0.8" />
<line x1="457.20" y1="367.88" x2="459.80" y2="367.88" stroke="#3f9f45" stroke-width="0.7" />
<line x1="457.20" y1="363.84" x2="459.80" y2="363.84" stroke="#3f9f45" stroke-width="0.7" />
<circle cx="458.50" cy="365.86" r="1.4" fill="#3f9f45" />
<polyline points="378.70,357.79 384.40,359.81 418.60,365.86 458.50,366.53" fill="none" stroke="#2c5c94" stroke-width="1.0" />
<line x1="378.70" y1="359.81" x2="378.70" y2="355.77" stroke="#2c5c94" stroke-width="0.8" />
<line x1="377.40" y1="359.81" x2="380.00" y2="359.81" stroke="#2c5c94" stroke-width="0.7" />
<line x1="377.40" y1="355.77" x2="380.00" y2="355.77" stroke="#2c5c94" stroke-width="0.7" />
<circle cx="378.70" cy="357.79" r="1.4" fill="#2c5c94" />
<line x1="384.40" y1="362.50" x2="384.40" y2="357.12" stroke="#2c5c94" stroke-width="0.8" />
<line x1="383.10" y1="362.50" x2="385.70" y2="362.50" stroke="#2c5c94" stroke-width="0.7" />
<line x1="383.10" y1="357.12" x2="385.70" y2="357.12" stroke="#2c5c94" stroke-width="0.7" />
<circle cx="384.40" cy="359.81" r="1.4" fill="#2c5c94" />
<line x1="418.60" y1="366.87" x2="418.60" y2="364.85" stroke="#2c5c94" stroke-width="0.8" />
<line x1="417.30" y1="366.87" x2="419.90" y2="366.87" stroke="#2c5c94" stroke-width="0.7" />
<line x1="417.30" y1="364.85" x2="419.90" y2="364.85" stroke="#2c5c94" stroke-width="0.7" />
<circle cx="418.60" cy="365.86" r="1.4" fill="#2c5c94" />
<line x1="458.50" y1="369.90" x2="458.50" y2="363.17" stroke="#2c5c94" stroke-width="0.8" />
<line x1="457.20" y1="369.90" x2="459.80" y2="369.90" stroke="#2c5c94" stroke-width="0.7" />
<line x1="457.20" y1="363.17" x2="459.80" y2="363.17" stroke="#2c5c94" stroke-width="0.7" />
<circle cx="458.50" cy="366.53" r="1.4" fill="#2c5c94" />
<polyline points="378.70,351.07 384.40,349.05 418.60,352.41 458.50,363.84" fill="none" stroke="#9b8fd0" stroke-width="1.0" />
<line x1="378.70" y1="353.08" x2="378.70" y2="349.05" stroke="#9b8fd0" stroke-width="0.8" />
<line x1="377.40" y1="353.08" x2="380.00" y2="353.08" stroke="#9b8fd0" stroke-width="0.7" />
<line x1="377.40" y1="349.05" x2="380.00" y2="349.05" stroke="#9b8fd0" stroke-width="0.7" />
<circle cx="378.70" cy="351.07" r="1.4" fill="#9b8fd0" />
<line x1="384.40" y1="351.07" x2="384.40" y2="347.03" stroke="#9b8fd0" stroke-width="0.8" />
<line x1="383.10" y1="351.07" x2="385.70" y2="351.07" stroke="#9b8fd0" stroke-width="0.7" />
<line x1="383.10" y1="347.03" x2="385.70" y2="347.03" stroke="#9b8fd0" stroke-width="0.7" />
<circle cx="384.40" cy="349.05" r="1.4" fill="#9b8fd0" />
<line x1="418.60" y1="353.76" x2="418.60" y2="351.07" stroke="#9b8fd0" stroke-width="0.8" />
<line x1="417.30" y1="353.76" x2="419.90" y2="353.76" stroke="#9b8fd0" stroke-width="0.7" />
<line x1="417.30" y1="351.07" x2="419.90" y2="351.07" stroke="#9b8fd0" stroke-width="0.7" />
<circle cx="418.60" cy="352.41" r="1.4" fill="#9b8fd0" />
<line x1="458.50" y1="365.86" x2="458.50" y2="361.83" stroke="#9b8fd0" stroke-width="0.8" />
<line x1="457.20" y1="365.86" x2="459.80" y2="365.86" stroke="#9b8fd0" stroke-width="0.7" />
<line x1="457.20" y1="361.83" x2="459.80" y2="361.83" stroke="#9b8fd0" stroke-width="0.7" />
<circle cx="458.50" cy="363.84" r="1.4" fill="#9b8fd0" />
<polyline points="378.70,352.41 384.40,350.39 418.60,351.74 458.50,365.19" fill="none" stroke="#3fa6d6" stroke-width="1.0" />
<line x1="378.70" y1="354.43" x2="378.70" y2="350.39" stroke="#3fa6d6" stroke-width="0.8" />
<line x1="377.40" y1="354.43" x2="380.00" y2="354.43" stroke="#3fa6d6" stroke-width="0.7" />
<line x1="377.40" y1="350.39" x2="380.00" y2="350.39" stroke="#3fa6d6" stroke-width="0.7" />
<circle cx="378.70" cy="352.41" r="1.4" fill="#3fa6d6" />
<line x1="384.40" y1="352.41" x2="384.40" y2="348.38" stroke="#3fa6d6" stroke-width="0.8" />
<line x1="383.10" y1="352.41" x2="385.70" y2="352.41" stroke="#3fa6d6" stroke-width="0.7" />
<line x1="383.10" y1="348.38" x2="385.70" y2="348.38" stroke="#3fa6d6" stroke-width="0.7" />
<circle cx="384.40" cy="350.39" r="1.4" fill="#3fa6d6" />
<line x1="418.60" y1="353.08" x2="418.60" y2="350.39" stroke="#3fa6d6" stroke-width="0.8" />
<line x1="417.30" y1="353.08" x2="419.90" y2="353.08" stroke="#3fa6d6" stroke-width="0.7" />
<line x1="417.30" y1="350.39" x2="419.90" y2="350.39" stroke="#3fa6d6" stroke-width="0.7" />
<circle cx="418.60" cy="351.74" r="1.4" fill="#3fa6d6" />
<line x1="458.50" y1="367.21" x2="458.50" y2="363.17" stroke="#3fa6d6" stroke-width="0.8" />
<line x1="457.20" y1="367.21" x2="459.80" y2="367.21" stroke="#3fa6d6" stroke-width="0.7" />
<line x1="457.20" y1="363.17" x2="459.80" y2="363.17" stroke="#3fa6d6" stroke-width="0.7" />
<circle cx="458.50" cy="365.19" r="1.4" fill="#3fa6d6" />
<polyline points="378.70,352.41 384.40,347.70 418.60,351.74 458.50,364.52" fill="none" stroke="#c8207a" stroke-width="1.0" />
<line x1="378.70" y1="354.43" x2="378.70" y2="350.39" stroke="#c8207a" stroke-width="0.8" />
<line x1="377.40" y1="354.43" x2="380.00" y2="354.43" stroke="#c8207a" stroke-width="0.7" />
<line x1="377.40" y1="350.39" x2="380.00" y2="350.39" stroke="#c8207a" stroke-width="0.7" />
<circle cx="378.70" cy="352.41" r="1.4" fill="#c8207a" />
<line x1="384.40" y1="349.72" x2="384.40" y2="345.69" stroke="#c8207a" stroke-width="0.8" />
<line x1="383.10" y1="349.72" x2="385.70" y2="349.72" stroke="#c8207a" stroke-width="0.7" />
<line x1="383.10" y1="345.69" x2="385.70" y2="345.69" stroke="#c8207a" stroke-width="0.7" />
<circle cx="384.40" cy="347.70" r="1.4" fill="#c8207a" />
<line x1="418.60" y1="353.08" x2="418.60" y2="350.39" stroke="#c8207a" stroke-width="0.8" />
<line x1="417.30" y1="353.08" x2="419.90" y2="353.08" stroke="#c8207a" stroke-width="0.7" />
<line x1="417.30" y1="350.39" x2="419.90" y2="350.39" stroke="#c8207a" stroke-width="0.7" />
<circle cx="418.60" cy="351.74" r="1.4" fill="#c8207a" />
<line x1="458.50" y1="366.53" x2="458.50" y2="362.50" stroke="#c8207a" stroke-width="0.8" />
<line x1="457.20" y1="366.53" x2="459.80" y2="366.53" stroke="#c8207a" stroke-width="0.7" />
<line x1="457.20" y1="362.50" x2="459.80" y2="362.50" stroke="#c8207a" stroke-width="0.7" />
<circle cx="458.50" cy="364.52" r="1.4" fill="#c8207a" />
<line x1="378.50" y1="333.10" x2="378.50" y2="390.20" stroke="#111" stroke-width="1.1" />
<line x1="378.50" y1="389.70" x2="464.70" y2="389.70" stroke="#111" stroke-width="1.2" />
<line x1="375.20" y1="389.40" x2="378.20" y2="389.40" stroke="#222" stroke-width="0.9" />
<text x="373.70" y="391.50" font-size="5.8" text-anchor="end" fill="#333" stroke="#333" stroke-width="0.16" >0</text>
<line x1="375.20" y1="375.95" x2="378.20" y2="375.95" stroke="#222" stroke-width="0.9" />
<text x="373.70" y="378.05" font-size="5.8" text-anchor="end" fill="#333" stroke="#333" stroke-width="0.16" >20</text>
<line x1="375.20" y1="362.50" x2="378.20" y2="362.50" stroke="#222" stroke-width="0.9" />
<text x="373.70" y="364.60" font-size="5.8" text-anchor="end" fill="#333" stroke="#333" stroke-width="0.16" >40</text>
<line x1="375.20" y1="349.05" x2="378.20" y2="349.05" stroke="#222" stroke-width="0.9" />
<text x="373.70" y="351.15" font-size="5.8" text-anchor="end" fill="#333" stroke="#333" stroke-width="0.16" >60</text>
<line x1="375.20" y1="335.60" x2="378.20" y2="335.60" stroke="#222" stroke-width="0.9" />
<text x="373.70" y="337.70" font-size="5.8" text-anchor="end" fill="#333" stroke="#333" stroke-width="0.16" >80</text>
<line x1="378.70" y1="389.90" x2="378.70" y2="392.90" stroke="#222" stroke-width="0.9" />
<text x="378.70" y="399.00" font-size="5.8" text-anchor="middle" fill="#333" stroke="#333" stroke-width="0.16" >0</text>
<line x1="407.20" y1="389.90" x2="407.20" y2="392.90" stroke="#222" stroke-width="0.9" />
<text x="407.20" y="399.00" font-size="5.8" text-anchor="middle" fill="#333" stroke="#333" stroke-width="0.16" >5</text>
<line x1="435.70" y1="389.90" x2="435.70" y2="392.90" stroke="#222" stroke-width="0.9" />
<text x="435.70" y="399.00" font-size="5.8" text-anchor="middle" fill="#333" stroke="#333" stroke-width="0.16" >10</text>
<line x1="464.20" y1="389.90" x2="464.20" y2="392.90" stroke="#222" stroke-width="0.9" />
<text x="464.20" y="399.00" font-size="5.8" text-anchor="middle" fill="#333" stroke="#333" stroke-width="0.16" >15</text>
<line x1="378.70" y1="403.50" x2="378.70" y2="407.70" stroke="#111" stroke-width="0.8" />
<path d="M377.20,405 L378.70,402.2 L380.20,405 Z" fill="#111"/>
<text x="423.30" y="410.80" font-size="8.4" text-anchor="middle" fill="#222" stroke="#222" stroke-width="0.3" textLength="51" lengthAdjust="spacingAndGlyphs" >Days post-treatment</text>
<text x="384.40" y="329.80" font-size="5.5" text-anchor="middle" fill="#c8207a" stroke="#c8207a" stroke-width="0.16" >*</text>
<text x="384.40" y="334.50" font-size="5.5" text-anchor="middle" fill="#9b8fd0" stroke="#9b8fd0" stroke-width="0.16" >*</text>
<text x="384.40" y="339.21" font-size="5.5" text-anchor="middle" fill="#3f9f45" stroke="#3f9f45" stroke-width="0.16" >***</text>
<text x="384.40" y="343.99" font-size="5.5" text-anchor="middle" fill="#3fa6d6" stroke="#3fa6d6" stroke-width="0.16" >*</text>
<text x="418.60" y="334.50" font-size="5.5" text-anchor="middle" fill="#c8207a" stroke="#c8207a" stroke-width="0.16" >****</text>
<text x="418.60" y="339.21" font-size="5.5" text-anchor="middle" fill="#9b8fd0" stroke="#9b8fd0" stroke-width="0.16" >***</text>
<text x="418.60" y="343.58" font-size="5.5" text-anchor="middle" fill="#3f9f45" stroke="#3f9f45" stroke-width="0.16" >****</text>
<text x="418.60" y="348.29" font-size="5.5" text-anchor="middle" fill="#3fa6d6" stroke="#3fa6d6" stroke-width="0.16" >****</text>
<text x="458.50" y="359.99" font-size="5.5" text-anchor="middle" fill="#999999" stroke="#999999" stroke-width="0.16" >*</text>
<line x1="471.00" y1="333.10" x2="477.60" y2="333.10" stroke="#2c5c94" stroke-width="1.0" />
<circle cx="474.30" cy="333.10" r="1.4" fill="#2c5c94" />
<text x="480.00" y="335.20" font-size="5.8" text-anchor="start" fill="#222" stroke="#222" stroke-width="0.16" >PBS</text>
<line x1="471.00" y1="341.30" x2="477.60" y2="341.30" stroke="#b51f3e" stroke-width="1.0" />
<circle cx="474.30" cy="341.30" r="1.4" fill="#b51f3e" />
<text x="480.00" y="343.40" font-size="5.8" text-anchor="start" fill="#222" stroke="#222" stroke-width="0.16" >Pam3CSK4</text>
<line x1="471.00" y1="349.50" x2="477.60" y2="349.50" stroke="#f2b24f" stroke-width="1.0" />
<circle cx="474.30" cy="349.50" r="1.4" fill="#f2b24f" />
<text x="480.00" y="351.60" font-size="5.8" text-anchor="start" fill="#222" stroke="#222" stroke-width="0.16" >Pam2CSK4</text>
<line x1="471.00" y1="357.70" x2="477.60" y2="357.70" stroke="#c8207a" stroke-width="1.0" />
<circle cx="474.30" cy="357.70" r="1.4" fill="#c8207a" />
<text x="480.00" y="359.80" font-size="5.8" text-anchor="start" fill="#222" stroke="#222" stroke-width="0.16" >Poly(I:C)</text>
<line x1="471.00" y1="365.90" x2="477.60" y2="365.90" stroke="#9b8fd0" stroke-width="1.0" />
<circle cx="474.30" cy="365.90" r="1.4" fill="#9b8fd0" />
<text x="480.00" y="368.00" font-size="5.8" text-anchor="start" fill="#222" stroke="#222" stroke-width="0.16" >Poly(A:U)</text>
<line x1="471.00" y1="374.10" x2="477.60" y2="374.10" stroke="#3f9f45" stroke-width="1.0" />
<circle cx="474.30" cy="374.10" r="1.4" fill="#3f9f45" />
<text x="480.00" y="376.20" font-size="5.8" text-anchor="start" fill="#222" stroke="#222" stroke-width="0.16" >LPS</text>
<line x1="471.00" y1="382.30" x2="477.60" y2="382.30" stroke="#3fa6d6" stroke-width="1.0" />
<circle cx="474.30" cy="382.30" r="1.4" fill="#3fa6d6" />
<text x="480.00" y="384.40" font-size="5.8" text-anchor="start" fill="#222" stroke="#222" stroke-width="0.16" >R848</text>
<text x="6.50" y="438.40" font-size="10.5" text-anchor="start" fill="#111" stroke="#111" stroke-width="0.45" font-weight="bold" >G</text>
<polyline points="33.50,460.70 72.23,460.70 72.23,464.20 74.78,464.20 74.78,467.66 79.22,467.66 79.22,471.16 80.81,471.16 80.81,474.66 83.03,474.66 83.03,478.12 84.62,478.12 84.62,485.12 86.84,485.12 86.84,492.08 88.49,492.08 88.49,499.04 92.87,499.04 92.87,502.54 95.73,502.54 95.73,506.04 98.27,506.04 98.27,509.50 100.17,509.50 100.17,513.00" fill="none" stroke="#d43f5c" stroke-width="1.0" />
<polyline points="33.50,460.70 58.01,460.70 58.01,464.20 62.58,464.20 62.58,467.66 69.50,467.66 69.50,471.16 71.79,471.16 71.79,474.66 72.87,474.66 72.87,478.12 73.50,478.12 73.50,481.62 74.14,481.62 74.14,485.12 74.78,485.12 74.78,488.58 75.41,488.58 75.41,495.58 79.22,495.58 79.22,502.54 80.17,502.54 80.17,506.04 81.12,506.04 81.12,509.50 82.40,509.50 82.40,513.00" fill="none" stroke="#4a7fb0" stroke-width="1.0" />
<line x1="33.50" y1="457.70" x2="33.50" y2="513.80" stroke="#111" stroke-width="1.1" />
<line x1="33.50" y1="513.30" x2="110.20" y2="513.30" stroke="#111" stroke-width="1.2" />
<line x1="30.00" y1="513.00" x2="33.00" y2="513.00" stroke="#222" stroke-width="0.9" />
<text x="28.50" y="515.10" font-size="5.8" text-anchor="end" fill="#333" stroke="#333" stroke-width="0.16" >0</text>
<line x1="30.00" y1="499.93" x2="33.00" y2="499.93" stroke="#222" stroke-width="0.9" />
<text x="28.50" y="502.03" font-size="5.8" text-anchor="end" fill="#333" stroke="#333" stroke-width="0.16" >25</text>
<line x1="30.00" y1="486.85" x2="33.00" y2="486.85" stroke="#222" stroke-width="0.9" />
<text x="28.50" y="488.95" font-size="5.8" text-anchor="end" fill="#333" stroke="#333" stroke-width="0.16" >50</text>
<line x1="30.00" y1="473.77" x2="33.00" y2="473.77" stroke="#222" stroke-width="0.9" />
<text x="28.50" y="475.88" font-size="5.8" text-anchor="end" fill="#333" stroke="#333" stroke-width="0.16" >75</text>
<line x1="30.00" y1="460.70" x2="33.00" y2="460.70" stroke="#222" stroke-width="0.9" />
<text x="28.50" y="462.80" font-size="5.8" text-anchor="end" fill="#333" stroke="#333" stroke-width="0.16" >100</text>
<line x1="33.50" y1="513.50" x2="33.50" y2="516.50" stroke="#222" stroke-width="0.9" />
<text x="33.50" y="522.60" font-size="5.8" text-anchor="middle" fill="#333" stroke="#333" stroke-width="0.16" >0</text>
<line x1="46.20" y1="513.50" x2="46.20" y2="516.50" stroke="#222" stroke-width="0.9" />
<text x="46.20" y="522.60" font-size="5.8" text-anchor="middle" fill="#333" stroke="#333" stroke-width="0.16" >20</text>
<line x1="58.90" y1="513.50" x2="58.90" y2="516.50" stroke="#222" stroke-width="0.9" />
<text x="58.90" y="522.60" font-size="5.8" text-anchor="middle" fill="#333" stroke="#333" stroke-width="0.16" >40</text>
<line x1="71.60" y1="513.50" x2="71.60" y2="516.50" stroke="#222" stroke-width="0.9" />
<text x="71.60" y="522.60" font-size="5.8" text-anchor="middle" fill="#333" stroke="#333" stroke-width="0.16" >60</text>
<line x1="84.30" y1="513.50" x2="84.30" y2="516.50" stroke="#222" stroke-width="0.9" />
<text x="84.30" y="522.60" font-size="5.8" text-anchor="middle" fill="#333" stroke="#333" stroke-width="0.16" >80</text>
<line x1="97.00" y1="513.50" x2="97.00" y2="516.50" stroke="#222" stroke-width="0.9" />
<text x="97.00" y="522.60" font-size="5.8" text-anchor="middle" fill="#333" stroke="#333" stroke-width="0.16" >100</text>
<line x1="109.70" y1="513.50" x2="109.70" y2="516.50" stroke="#222" stroke-width="0.9" />
<text x="109.70" y="522.60" font-size="5.8" text-anchor="middle" fill="#333" stroke="#333" stroke-width="0.16" >120</text>
<text x="0.00" y="0.00" font-size="7.8" text-anchor="middle" fill="#222" stroke="#222" stroke-width="0.28" textLength="27.6" lengthAdjust="spacingAndGlyphs" transform="translate(13.80,486.85) rotate(-90)">% Survival</text>
<text x="72.50" y="534.50" font-size="8.4" text-anchor="middle" fill="#222" stroke="#222" stroke-width="0.3" textLength="52.5" lengthAdjust="spacingAndGlyphs" >Days post-transplant</text>
<line x1="40.00" y1="506.30" x2="40.00" y2="510.00" stroke="#111" stroke-width="0.8" />
<path d="M38.50,509.3 L40.00,512 L41.50,509.3 Z" fill="#111"/>
<line x1="42.00" y1="441.90" x2="48.50" y2="441.90" stroke="#4a7fb0" stroke-width="1.1" />
<text x="50.60" y="444.10" font-size="6.2" text-anchor="start" fill="#222" stroke="#222" stroke-width="0.16" textLength="36" lengthAdjust="spacingAndGlyphs" >PBS (n = 15)</text>
<line x1="42.00" y1="448.90" x2="48.50" y2="448.90" stroke="#d43f5c" stroke-width="1.1" />
<text x="50.60" y="451.10" font-size="6.2" text-anchor="start" fill="#222" stroke="#222" stroke-width="0.16" textLength="55.4" lengthAdjust="spacingAndGlyphs" >Pam3CSK4 (n = 15)</text>
<text x="87.92" y="489.25" font-size="5.5" text-anchor="start" fill="#222" stroke="#222" stroke-width="0.16" >****</text>
<text x="129.50" y="438.40" font-size="10.5" text-anchor="start" fill="#111" stroke="#111" stroke-width="0.45" font-weight="bold" >H</text>
<polyline points="155.30,464.20 199.73,464.20 199.73,474.00 204.56,474.00 204.56,493.60 211.23,493.60 211.23,503.40 226.69,503.40 226.69,513.20" fill="none" stroke="#f2a83a" stroke-width="1.0" />
<polyline points="155.30,464.20 192.47,464.20 192.47,474.00 196.60,474.00 196.60,483.80 199.73,483.80 199.73,513.20" fill="none" stroke="#4a7fb0" stroke-width="1.0" />
<line x1="155.50" y1="461.20" x2="155.50" y2="514.00" stroke="#111" stroke-width="1.1" />
<line x1="155.50" y1="513.50" x2="238.40" y2="513.50" stroke="#111" stroke-width="1.2" />
<line x1="151.80" y1="513.20" x2="154.80" y2="513.20" stroke="#222" stroke-width="0.9" />
<text x="150.30" y="515.30" font-size="5.8" text-anchor="end" fill="#333" stroke="#333" stroke-width="0.16" >0</text>
<line x1="151.80" y1="500.95" x2="154.80" y2="500.95" stroke="#222" stroke-width="0.9" />
<text x="150.30" y="503.05" font-size="5.8" text-anchor="end" fill="#333" stroke="#333" stroke-width="0.16" >25</text>
<line x1="151.80" y1="488.70" x2="154.80" y2="488.70" stroke="#222" stroke-width="0.9" />
<text x="150.30" y="490.80" font-size="5.8" text-anchor="end" fill="#333" stroke="#333" stroke-width="0.16" >50</text>
<line x1="151.80" y1="476.45" x2="154.80" y2="476.45" stroke="#222" stroke-width="0.9" />
<text x="150.30" y="478.55" font-size="5.8" text-anchor="end" fill="#333" stroke="#333" stroke-width="0.16" >75</text>
<line x1="151.80" y1="464.20" x2="154.80" y2="464.20" stroke="#222" stroke-width="0.9" />
<text x="150.30" y="466.30" font-size="5.8" text-anchor="end" fill="#333" stroke="#333" stroke-width="0.16" >100</text>
<line x1="155.30" y1="513.70" x2="155.30" y2="516.70" stroke="#222" stroke-width="0.9" />
<text x="155.30" y="522.80" font-size="5.8" text-anchor="middle" fill="#333" stroke="#333" stroke-width="0.16" >0</text>
<line x1="167.10" y1="513.70" x2="167.10" y2="516.70" stroke="#222" stroke-width="0.9" />
<text x="167.10" y="522.80" font-size="5.8" text-anchor="middle" fill="#333" stroke="#333" stroke-width="0.16" >20</text>
<line x1="178.90" y1="513.70" x2="178.90" y2="516.70" stroke="#222" stroke-width="0.9" />
<text x="178.90" y="522.80" font-size="5.8" text-anchor="middle" fill="#333" stroke="#333" stroke-width="0.16" >40</text>
<line x1="190.70" y1="513.70" x2="190.70" y2="516.70" stroke="#222" stroke-width="0.9" />
<text x="190.70" y="522.80" font-size="5.8" text-anchor="middle" fill="#333" stroke="#333" stroke-width="0.16" >60</text>
<line x1="202.50" y1="513.70" x2="202.50" y2="516.70" stroke="#222" stroke-width="0.9" />
<text x="202.50" y="522.80" font-size="5.8" text-anchor="middle" fill="#333" stroke="#333" stroke-width="0.16" >80</text>
<line x1="214.30" y1="513.70" x2="214.30" y2="516.70" stroke="#222" stroke-width="0.9" />
<text x="214.30" y="522.80" font-size="5.8" text-anchor="middle" fill="#333" stroke="#333" stroke-width="0.16" >100</text>
<line x1="226.10" y1="513.70" x2="226.10" y2="516.70" stroke="#222" stroke-width="0.9" />
<text x="226.10" y="522.80" font-size="5.8" text-anchor="middle" fill="#333" stroke="#333" stroke-width="0.16" >120</text>
<line x1="237.90" y1="513.70" x2="237.90" y2="516.70" stroke="#222" stroke-width="0.9" />
<text x="237.90" y="522.80" font-size="5.8" text-anchor="middle" fill="#333" stroke="#333" stroke-width="0.16" >140</text>
<text x="0.00" y="0.00" font-size="7.8" text-anchor="middle" fill="#222" stroke="#222" stroke-width="0.28" textLength="27.6" lengthAdjust="spacingAndGlyphs" transform="translate(136.30,488.70) rotate(-90)">% Survival</text>
<text x="197.50" y="534.50" font-size="8.4" text-anchor="middle" fill="#222" stroke="#222" stroke-width="0.3" textLength="52.5" lengthAdjust="spacingAndGlyphs" >Days post-transplant</text>
<line x1="162.50" y1="506.30" x2="162.50" y2="510.00" stroke="#111" stroke-width="0.8" />
<path d="M161.00,509.3 L162.50,512 L164.00,509.3 Z" fill="#111"/>
<line x1="168.60" y1="445.50" x2="175.10" y2="445.50" stroke="#4a7fb0" stroke-width="1.1" />
<text x="177.20" y="447.70" font-size="6.2" text-anchor="start" fill="#222" stroke="#222" stroke-width="0.16" textLength="34" lengthAdjust="spacingAndGlyphs" >PBS (n = 5)</text>
<line x1="168.60" y1="452.50" x2="175.10" y2="452.50" stroke="#f2a83a" stroke-width="1.1" />
<text x="177.20" y="454.70" font-size="6.2" text-anchor="start" fill="#222" stroke="#222" stroke-width="0.16" textLength="51.75" lengthAdjust="spacingAndGlyphs" >Pam2CSK4 (n = 5)</text>
<text x="206.63" y="490.12" font-size="5.5" text-anchor="start" fill="#222" stroke="#222" stroke-width="0.16" >*</text>
<text x="256.50" y="437.60" font-size="10.5" text-anchor="start" fill="#111" stroke="#111" stroke-width="0.45" font-weight="bold" >I</text>
<text x="324.40" y="436.60" font-size="8.4" text-anchor="middle" fill="#222" stroke="#222" stroke-width="0.07" textLength="76" lengthAdjust="spacingAndGlyphs" >murine <tspan font-style="italic">MLL-AF9</tspan> AML</text>
<polyline points="284.20,462.30 327.30,462.30 327.30,472.48 333.30,472.48 333.30,482.66 339.40,482.66 339.40,492.84 347.40,492.84 347.40,513.20" fill="none" stroke="#d43f5c" stroke-width="1.0" />
<polyline points="284.20,462.30 313.30,462.30 313.30,482.66 325.30,482.66 325.30,503.02 327.20,503.02 327.20,513.20" fill="none" stroke="#4a7fb0" stroke-width="1.0" />
<line x1="284.50" y1="459.30" x2="284.50" y2="514.00" stroke="#111" stroke-width="1.1" />
<line x1="284.50" y1="513.50" x2="364.70" y2="513.50" stroke="#111" stroke-width="1.2" />
<line x1="280.70" y1="513.20" x2="283.70" y2="513.20" stroke="#222" stroke-width="0.9" />
<text x="279.20" y="515.30" font-size="5.8" text-anchor="end" fill="#333" stroke="#333" stroke-width="0.16" >0</text>
<line x1="280.70" y1="500.48" x2="283.70" y2="500.48" stroke="#222" stroke-width="0.9" />
<text x="279.20" y="502.58" font-size="5.8" text-anchor="end" fill="#333" stroke="#333" stroke-width="0.16" >25</text>
<line x1="280.70" y1="487.75" x2="283.70" y2="487.75" stroke="#222" stroke-width="0.9" />
<text x="279.20" y="489.85" font-size="5.8" text-anchor="end" fill="#333" stroke="#333" stroke-width="0.16" >50</text>
<line x1="280.70" y1="475.03" x2="283.70" y2="475.03" stroke="#222" stroke-width="0.9" />
<text x="279.20" y="477.13" font-size="5.8" text-anchor="end" fill="#333" stroke="#333" stroke-width="0.16" >75</text>
<line x1="280.70" y1="462.30" x2="283.70" y2="462.30" stroke="#222" stroke-width="0.9" />
<text x="279.20" y="464.40" font-size="5.8" text-anchor="end" fill="#333" stroke="#333" stroke-width="0.16" >100</text>
<line x1="284.20" y1="513.70" x2="284.20" y2="516.70" stroke="#222" stroke-width="0.9" />
<text x="284.20" y="522.80" font-size="5.8" text-anchor="middle" fill="#333" stroke="#333" stroke-width="0.16" >0</text>
<line x1="304.20" y1="513.70" x2="304.20" y2="516.70" stroke="#222" stroke-width="0.9" />
<text x="304.20" y="522.80" font-size="5.8" text-anchor="middle" fill="#333" stroke="#333" stroke-width="0.16" >10</text>
<line x1="324.20" y1="513.70" x2="324.20" y2="516.70" stroke="#222" stroke-width="0.9" />
<text x="324.20" y="522.80" font-size="5.8" text-anchor="middle" fill="#333" stroke="#333" stroke-width="0.16" >20</text>
<line x1="344.20" y1="513.70" x2="344.20" y2="516.70" stroke="#222" stroke-width="0.9" />
<text x="344.20" y="522.80" font-size="5.8" text-anchor="middle" fill="#333" stroke="#333" stroke-width="0.16" >30</text>
<line x1="364.20" y1="513.70" x2="364.20" y2="516.70" stroke="#222" stroke-width="0.9" />
<text x="364.20" y="522.80" font-size="5.8" text-anchor="middle" fill="#333" stroke="#333" stroke-width="0.16" >40</text>
<text x="0.00" y="0.00" font-size="7.8" text-anchor="middle" fill="#222" stroke="#222" stroke-width="0.28" textLength="27.6" lengthAdjust="spacingAndGlyphs" transform="translate(265.00,487.75) rotate(-90)">% Survival</text>
<text x="325.00" y="534.50" font-size="8.4" text-anchor="middle" fill="#222" stroke="#222" stroke-width="0.3" textLength="52.5" lengthAdjust="spacingAndGlyphs" >Days post-transplant</text>
<line x1="303.75" y1="506.30" x2="303.75" y2="510.00" stroke="#111" stroke-width="0.8" />
<path d="M302.25,509.3 L303.75,512 L305.25,509.3 Z" fill="#111"/>
<line x1="295.00" y1="443.80" x2="301.50" y2="443.80" stroke="#4a7fb0" stroke-width="1.1" />
<text x="307.50" y="446.00" font-size="6.2" text-anchor="start" fill="#222" stroke="#222" stroke-width="0.16" textLength="33.5" lengthAdjust="spacingAndGlyphs" >PBS (n = 5)</text>
<line x1="295.00" y1="450.80" x2="301.50" y2="450.80" stroke="#d43f5c" stroke-width="1.1" />
<text x="307.50" y="453.00" font-size="6.2" text-anchor="start" fill="#222" stroke="#222" stroke-width="0.16" textLength="51.25" lengthAdjust="spacingAndGlyphs" >Pam3CSK4 (n = 5)</text>
<text x="350.20" y="497.79" font-size="5.5" text-anchor="start" fill="#222" stroke="#222" stroke-width="0.16" >**</text>
<text x="380.30" y="437.60" font-size="10.5" text-anchor="start" fill="#111" stroke="#111" stroke-width="0.45" font-weight="bold" >J</text>
<text x="450.40" y="436.60" font-size="8.4" text-anchor="middle" fill="#222" stroke="#222" stroke-width="0.07" textLength="43" lengthAdjust="spacingAndGlyphs" >Human AML</text>
<polyline points="409.20,461.50 445.92,461.50 445.92,464.96 452.40,464.96 452.40,468.38 455.10,468.38 455.10,471.84 456.45,471.84 456.45,478.72 457.53,478.72 457.53,485.64 458.75,485.64 458.75,492.52 459.82,492.52 459.82,495.98 462.52,495.98 462.52,499.40 466.31,499.40 466.31,506.32 469.95,506.32 469.95,509.74 473.73,509.74 473.73,513.20" fill="none" stroke="#d43f5c" stroke-width="1.0" />
<polyline points="409.20,461.50 445.65,461.50 445.65,467.96 447.68,467.96 447.68,474.43 451.45,474.43 451.45,480.89 453.07,480.89 453.07,484.14 454.15,484.14 454.15,500.28 456.45,500.28 456.45,506.74 460.23,506.74 460.23,509.99 462.52,509.99 462.52,513.20" fill="none" stroke="#4a7fb0" stroke-width="1.0" />
<line x1="409.50" y1="458.50" x2="409.50" y2="514.00" stroke="#111" stroke-width="1.1" />
<line x1="409.50" y1="513.50" x2="490.70" y2="513.50" stroke="#111" stroke-width="1.2" />
<line x1="405.70" y1="513.20" x2="408.70" y2="513.20" stroke="#222" stroke-width="0.9" />
<text x="404.20" y="515.30" font-size="5.8" text-anchor="end" fill="#333" stroke="#333" stroke-width="0.16" >0</text>
<line x1="405.70" y1="500.28" x2="408.70" y2="500.28" stroke="#222" stroke-width="0.9" />
<text x="404.20" y="502.38" font-size="5.8" text-anchor="end" fill="#333" stroke="#333" stroke-width="0.16" >25</text>
<line x1="405.70" y1="487.35" x2="408.70" y2="487.35" stroke="#222" stroke-width="0.9" />
<text x="404.20" y="489.45" font-size="5.8" text-anchor="end" fill="#333" stroke="#333" stroke-width="0.16" >50</text>
<line x1="405.70" y1="474.43" x2="408.70" y2="474.43" stroke="#222" stroke-width="0.9" />
<text x="404.20" y="476.53" font-size="5.8" text-anchor="end" fill="#333" stroke="#333" stroke-width="0.16" >75</text>
<line x1="405.70" y1="461.50" x2="408.70" y2="461.50" stroke="#222" stroke-width="0.9" />
<text x="404.20" y="463.60" font-size="5.8" text-anchor="end" fill="#333" stroke="#333" stroke-width="0.16" >100</text>
<line x1="409.20" y1="513.70" x2="409.20" y2="516.70" stroke="#222" stroke-width="0.9" />
<text x="409.20" y="522.80" font-size="5.8" text-anchor="middle" fill="#333" stroke="#333" stroke-width="0.16" >0</text>
<line x1="436.20" y1="513.70" x2="436.20" y2="516.70" stroke="#222" stroke-width="0.9" />
<text x="436.20" y="522.80" font-size="5.8" text-anchor="middle" fill="#333" stroke="#333" stroke-width="0.16" >20</text>
<line x1="463.20" y1="513.70" x2="463.20" y2="516.70" stroke="#222" stroke-width="0.9" />
<text x="463.20" y="522.80" font-size="5.8" text-anchor="middle" fill="#333" stroke="#333" stroke-width="0.16" >40</text>
<line x1="490.20" y1="513.70" x2="490.20" y2="516.70" stroke="#222" stroke-width="0.9" />
<text x="490.20" y="522.80" font-size="5.8" text-anchor="middle" fill="#333" stroke="#333" stroke-width="0.16" >60</text>
<text x="0.00" y="0.00" font-size="7.8" text-anchor="middle" fill="#222" stroke="#222" stroke-width="0.28" textLength="27.6" lengthAdjust="spacingAndGlyphs" transform="translate(390.00,487.35) rotate(-90)">% Survival</text>
<text x="450.00" y="534.50" font-size="8.4" text-anchor="middle" fill="#222" stroke="#222" stroke-width="0.3" textLength="52.5" lengthAdjust="spacingAndGlyphs" >Days post-transplant</text>
<line x1="422.00" y1="506.30" x2="422.00" y2="510.00" stroke="#111" stroke-width="0.8" />
<path d="M420.50,509.3 L422.00,512 L423.50,509.3 Z" fill="#111"/>
<line x1="419.40" y1="443.00" x2="425.90" y2="443.00" stroke="#4a7fb0" stroke-width="1.1" />
<text x="428.00" y="445.20" font-size="6.2" text-anchor="start" fill="#222" stroke="#222" stroke-width="0.16" textLength="35.75" lengthAdjust="spacingAndGlyphs" >PBS (n = 16)</text>
<line x1="419.40" y1="450.00" x2="425.90" y2="450.00" stroke="#d43f5c" stroke-width="1.1" />
<text x="428.00" y="452.20" font-size="6.2" text-anchor="start" fill="#222" stroke="#222" stroke-width="0.16" textLength="55.75" lengthAdjust="spacingAndGlyphs" >Pam3CSK4 (n = 15)</text>
<text x="460.77" y="490.78" font-size="5.5" text-anchor="start" fill="#222" stroke="#222" stroke-width="0.16" >***</text>
<rect x="0.50" y="0.50" width="519.00" height="542.00" fill="none" stroke="#5a5a5a" stroke-width="1" />
</svg>
</body></html>
